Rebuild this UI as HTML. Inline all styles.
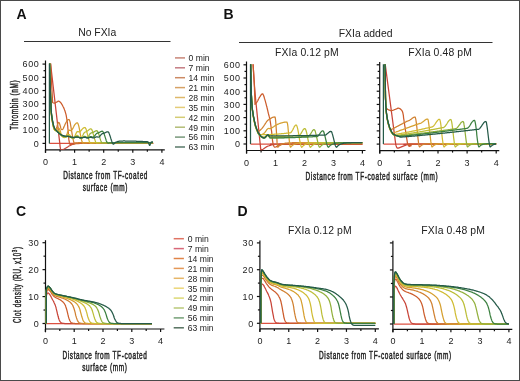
<!DOCTYPE html><html><head><meta charset="utf-8"><style>html,body{margin:0;padding:0;background:#fff;}svg{display:block;will-change:transform;}</style></head><body><svg width="520" height="381" viewBox="0 0 520 381" font-family='"Liberation Sans", sans-serif'>
<rect x="0" y="0" width="520" height="381" fill="#ffffff"/>
<rect x="0.5" y="0.5" width="519" height="380" fill="none" stroke="#4a4a4a" stroke-width="1"/>
<text x="16.4" y="18.6" font-size="14" text-anchor="start" font-weight="bold" fill="#111" >A</text>
<text x="223.6" y="18.9" font-size="14" text-anchor="start" font-weight="bold" fill="#111" >B</text>
<text x="15.9" y="216.4" font-size="14" text-anchor="start" font-weight="bold" fill="#111" >C</text>
<text x="237.4" y="216.4" font-size="14" text-anchor="start" font-weight="bold" fill="#111" >D</text>
<line x1="24" y1="41.5" x2="170.5" y2="41.5" stroke="#333" stroke-width="1.1"/>
<text x="97.2" y="35.6" font-size="10.4" text-anchor="middle" font-weight="normal" fill="#222" >No FXIa</text>
<line x1="239" y1="42.5" x2="492.5" y2="42.5" stroke="#333" stroke-width="1.1"/>
<text x="365.6" y="36.6" font-size="10.4" text-anchor="middle" font-weight="normal" fill="#222" >FXIa added</text>
<text x="306.9" y="56.2" font-size="10.4" text-anchor="middle" font-weight="normal" fill="#222" letter-spacing="0.12" >FXIa 0.12 pM</text>
<text x="440.1" y="56.2" font-size="10.4" text-anchor="middle" font-weight="normal" fill="#222" letter-spacing="0.12" >FXIa 0.48 pM</text>
<text x="319.9" y="233.9" font-size="10.4" text-anchor="middle" font-weight="normal" fill="#222" letter-spacing="0.12" >FXIa 0.12 pM</text>
<text x="453.1" y="233.9" font-size="10.4" text-anchor="middle" font-weight="normal" fill="#222" letter-spacing="0.12" >FXIa 0.48 pM</text>
<text transform="translate(105.6,179) scale(0.645,1)" font-size="10.0" text-anchor="middle" fill="#222" letter-spacing="0.95" stroke="#222" stroke-width="0.45">Distance from TF-coated</text>
<text transform="translate(105.3,191.1) scale(0.645,1)" font-size="10.0" text-anchor="middle" fill="#222" letter-spacing="0.95" stroke="#222" stroke-width="0.45">surface (mm)</text>
<text transform="translate(371.9,180.2) scale(0.645,1)" font-size="10.0" text-anchor="middle" fill="#222" letter-spacing="0.95" stroke="#222" stroke-width="0.45">Distance from TF-coated surface (mm)</text>
<text transform="translate(105,358.8) scale(0.645,1)" font-size="10.0" text-anchor="middle" fill="#222" letter-spacing="0.95" stroke="#222" stroke-width="0.45">Distance from TF-coated</text>
<text transform="translate(104.8,370.6) scale(0.645,1)" font-size="10.0" text-anchor="middle" fill="#222" letter-spacing="0.95" stroke="#222" stroke-width="0.45">surface (mm)</text>
<text transform="translate(385.4,358.6) scale(0.645,1)" font-size="10.0" text-anchor="middle" fill="#222" letter-spacing="0.95" stroke="#222" stroke-width="0.45">Distance from TF-coated surface (mm)</text>
<text transform="translate(18,104.9) rotate(-90) scale(0.645,1)" font-size="10.0" text-anchor="middle" fill="#222" letter-spacing="0.95" stroke="#222" stroke-width="0.45">Thrombin (nM)</text>
<text transform="translate(20.8,284.7) rotate(-90) scale(0.62,1)" font-size="10.0" text-anchor="middle" fill="#222" letter-spacing="0.95" stroke="#222" stroke-width="0.45">Clot density (RU, x10<tspan font-size="7.2" dy="-4">3</tspan><tspan dy="4">)</tspan></text>
<line x1="175" y1="57.9" x2="185" y2="57.9" stroke="#c88678" stroke-width="1.5"/>
<text x="188.6" y="61.2" font-size="8.6" text-anchor="start" font-weight="normal" fill="#222" >0 min</text>
<line x1="175" y1="67.8" x2="185" y2="67.8" stroke="#c47c82" stroke-width="1.5"/>
<text x="188.6" y="71.1" font-size="8.6" text-anchor="start" font-weight="normal" fill="#222" >7 min</text>
<line x1="175" y1="77.7" x2="185" y2="77.7" stroke="#cc8a64" stroke-width="1.5"/>
<text x="188.6" y="81" font-size="8.6" text-anchor="start" font-weight="normal" fill="#222" >14 min</text>
<line x1="175" y1="87.6" x2="185" y2="87.6" stroke="#d6a266" stroke-width="1.5"/>
<text x="188.6" y="90.9" font-size="8.6" text-anchor="start" font-weight="normal" fill="#222" >21 min</text>
<line x1="175" y1="97.5" x2="185" y2="97.5" stroke="#deb86a" stroke-width="1.5"/>
<text x="188.6" y="100.8" font-size="8.6" text-anchor="start" font-weight="normal" fill="#222" >28 min</text>
<line x1="175" y1="107.4" x2="185" y2="107.4" stroke="#e4cc78" stroke-width="1.5"/>
<text x="188.6" y="110.7" font-size="8.6" text-anchor="start" font-weight="normal" fill="#222" >35 min</text>
<line x1="175" y1="117.3" x2="185" y2="117.3" stroke="#d4cc74" stroke-width="1.5"/>
<text x="188.6" y="120.6" font-size="8.6" text-anchor="start" font-weight="normal" fill="#222" >42 min</text>
<line x1="175" y1="127.2" x2="185" y2="127.2" stroke="#b2bc76" stroke-width="1.5"/>
<text x="188.6" y="130.5" font-size="8.6" text-anchor="start" font-weight="normal" fill="#222" >49 min</text>
<line x1="175" y1="137.1" x2="185" y2="137.1" stroke="#78987a" stroke-width="1.5"/>
<text x="188.6" y="140.4" font-size="8.6" text-anchor="start" font-weight="normal" fill="#222" >56 min</text>
<line x1="175" y1="147" x2="185" y2="147" stroke="#587868" stroke-width="1.5"/>
<text x="188.6" y="150.3" font-size="8.6" text-anchor="start" font-weight="normal" fill="#222" >63 min</text>
<line x1="173.7" y1="238.7" x2="183.9" y2="238.7" stroke="#e07464" stroke-width="1.5"/>
<text x="187.8" y="242" font-size="8.6" text-anchor="start" font-weight="normal" fill="#222" >0 min</text>
<line x1="173.7" y1="248.6" x2="183.9" y2="248.6" stroke="#d86878" stroke-width="1.5"/>
<text x="187.8" y="251.9" font-size="8.6" text-anchor="start" font-weight="normal" fill="#222" >7 min</text>
<line x1="173.7" y1="258.5" x2="183.9" y2="258.5" stroke="#e08448" stroke-width="1.5"/>
<text x="187.8" y="261.8" font-size="8.6" text-anchor="start" font-weight="normal" fill="#222" >14 min</text>
<line x1="173.7" y1="268.4" x2="183.9" y2="268.4" stroke="#e49858" stroke-width="1.5"/>
<text x="187.8" y="271.7" font-size="8.6" text-anchor="start" font-weight="normal" fill="#222" >21 min</text>
<line x1="173.7" y1="278.3" x2="183.9" y2="278.3" stroke="#e6b668" stroke-width="1.5"/>
<text x="187.8" y="281.6" font-size="8.6" text-anchor="start" font-weight="normal" fill="#222" >28 min</text>
<line x1="173.7" y1="288.2" x2="183.9" y2="288.2" stroke="#ecd678" stroke-width="1.5"/>
<text x="187.8" y="291.5" font-size="8.6" text-anchor="start" font-weight="normal" fill="#222" >35 min</text>
<line x1="173.7" y1="298.1" x2="183.9" y2="298.1" stroke="#dcd874" stroke-width="1.5"/>
<text x="187.8" y="301.4" font-size="8.6" text-anchor="start" font-weight="normal" fill="#222" >42 min</text>
<line x1="173.7" y1="308" x2="183.9" y2="308" stroke="#b8c878" stroke-width="1.5"/>
<text x="187.8" y="311.3" font-size="8.6" text-anchor="start" font-weight="normal" fill="#222" >49 min</text>
<line x1="173.7" y1="317.9" x2="183.9" y2="317.9" stroke="#74a076" stroke-width="1.5"/>
<text x="187.8" y="321.2" font-size="8.6" text-anchor="start" font-weight="normal" fill="#222" >56 min</text>
<line x1="173.7" y1="327.8" x2="183.9" y2="327.8" stroke="#54705e" stroke-width="1.5"/>
<text x="187.8" y="331.1" font-size="8.6" text-anchor="start" font-weight="normal" fill="#222" >63 min</text>
<line x1="45.5" y1="60.5" x2="45.5" y2="152.8" stroke="#111" stroke-width="1.2"/>
<line x1="45.5" y1="149.8" x2="164.8" y2="149.8" stroke="#111" stroke-width="1.2"/>
<line x1="42.5" y1="143.4" x2="45.5" y2="143.4" stroke="#111" stroke-width="1.2"/>
<line x1="42.5" y1="130.18" x2="45.5" y2="130.18" stroke="#111" stroke-width="1.2"/>
<line x1="42.5" y1="116.96" x2="45.5" y2="116.96" stroke="#111" stroke-width="1.2"/>
<line x1="42.5" y1="103.74" x2="45.5" y2="103.74" stroke="#111" stroke-width="1.2"/>
<line x1="42.5" y1="90.52" x2="45.5" y2="90.52" stroke="#111" stroke-width="1.2"/>
<line x1="42.5" y1="77.3" x2="45.5" y2="77.3" stroke="#111" stroke-width="1.2"/>
<line x1="42.5" y1="64.08" x2="45.5" y2="64.08" stroke="#111" stroke-width="1.2"/>
<line x1="43.5" y1="136.79" x2="45.5" y2="136.79" stroke="#111" stroke-width="1.2"/>
<line x1="43.5" y1="123.57" x2="45.5" y2="123.57" stroke="#111" stroke-width="1.2"/>
<line x1="43.5" y1="110.35" x2="45.5" y2="110.35" stroke="#111" stroke-width="1.2"/>
<line x1="43.5" y1="97.13" x2="45.5" y2="97.13" stroke="#111" stroke-width="1.2"/>
<line x1="43.5" y1="83.91" x2="45.5" y2="83.91" stroke="#111" stroke-width="1.2"/>
<line x1="43.5" y1="70.69" x2="45.5" y2="70.69" stroke="#111" stroke-width="1.2"/>
<line x1="45.5" y1="149.8" x2="45.5" y2="152.8" stroke="#111" stroke-width="1.2"/>
<line x1="74.6" y1="149.8" x2="74.6" y2="152.8" stroke="#111" stroke-width="1.2"/>
<line x1="103.7" y1="149.8" x2="103.7" y2="152.8" stroke="#111" stroke-width="1.2"/>
<line x1="132.8" y1="149.8" x2="132.8" y2="152.8" stroke="#111" stroke-width="1.2"/>
<line x1="161.9" y1="149.8" x2="161.9" y2="152.8" stroke="#111" stroke-width="1.2"/>
<line x1="60.05" y1="149.8" x2="60.05" y2="151.8" stroke="#111" stroke-width="1.2"/>
<line x1="89.15" y1="149.8" x2="89.15" y2="151.8" stroke="#111" stroke-width="1.2"/>
<line x1="118.25" y1="149.8" x2="118.25" y2="151.8" stroke="#111" stroke-width="1.2"/>
<line x1="147.35" y1="149.8" x2="147.35" y2="151.8" stroke="#111" stroke-width="1.2"/>
<text transform="translate(39.4,146.7) scale(0.92,1)" font-size="9.8" text-anchor="end" letter-spacing="0.65" fill="#222">0</text>
<text transform="translate(39.4,133.48) scale(0.92,1)" font-size="9.8" text-anchor="end" letter-spacing="0.65" fill="#222">100</text>
<text transform="translate(39.4,120.26) scale(0.92,1)" font-size="9.8" text-anchor="end" letter-spacing="0.65" fill="#222">200</text>
<text transform="translate(39.4,107.04) scale(0.92,1)" font-size="9.8" text-anchor="end" letter-spacing="0.65" fill="#222">300</text>
<text transform="translate(39.4,93.82) scale(0.92,1)" font-size="9.8" text-anchor="end" letter-spacing="0.65" fill="#222">400</text>
<text transform="translate(39.4,80.6) scale(0.92,1)" font-size="9.8" text-anchor="end" letter-spacing="0.65" fill="#222">500</text>
<text transform="translate(39.4,67.38) scale(0.92,1)" font-size="9.8" text-anchor="end" letter-spacing="0.65" fill="#222">600</text>
<text transform="translate(45.5,164.7) scale(0.92,1)" font-size="9.8" text-anchor="middle" fill="#222">0</text>
<text transform="translate(74.6,164.7) scale(0.92,1)" font-size="9.8" text-anchor="middle" fill="#222">1</text>
<text transform="translate(103.7,164.7) scale(0.92,1)" font-size="9.8" text-anchor="middle" fill="#222">2</text>
<text transform="translate(132.8,164.7) scale(0.92,1)" font-size="9.8" text-anchor="middle" fill="#222">3</text>
<text transform="translate(161.9,164.7) scale(0.92,1)" font-size="9.8" text-anchor="middle" fill="#222">4</text>
<clipPath id="c1"><rect x="46" y="63.48" width="119.3" height="86.32"/></clipPath><g clip-path="url(#c1)">
<path d="M49.4,143.4L153.2,143.4" fill="none" stroke="#dc5040" stroke-width="1.25" stroke-linejoin="round"/>
<path d="M49.4,50.9L50.3,50.9L50.6,64.1L59.8,143.4L59.8,143.9L59.9,144.5L60,145.3L60,146.1L60.2,147L60.3,147.8L60.4,148.5L60.6,149L60.8,149.3L61.4,149.7L62.6,149.7L63.6,149.4L63.9,149.2L64.3,149L64.6,148.8L65,148.6L65.4,148.3L65.9,148L66.3,147.7L66.9,147.4L67.4,147.1L68,146.7L68.5,146.3L69.7,145.7L70.2,145.4L70.8,145.1L71.8,144.7L72.3,144.4L72.9,144.3L73.4,144.1L74,143.9L74.6,143.8L74.8,143.7L74.4,143.6L73.7,143.5L73.3,143.5L74.2,143.4L153.2,143.4" fill="none" stroke="#c84438" stroke-width="1.25" stroke-linejoin="round"/>
<path d="M49.4,50.9L50.3,50.9L50.6,64.1L52.6,102.4L53.1,102.7L53.7,103L54,103.1L54.2,103.1L54.5,103L54.8,103L55.1,102.8L55.7,102.6L56,102.4L56.6,102.2L56.8,102L57.1,101.8L57.4,101.7L57.7,101.5L57.9,101.3L58.2,101.2L58.8,101.2L59.1,101.3L59.7,101.7L60.1,102L60.8,102.7L61.1,103.2L61.5,103.7L61.9,104.4L62.4,105.2L63.3,107L63.8,107.9L64.2,108.9L64.6,110L65,111L65.3,112.1L65.6,113.1L65.9,114.2L66.2,115.4L66.8,119L67.2,121.6L67.4,123L67.5,124.4L67.7,125.9L67.9,128.8L68.1,130.2L68.5,135.4L68.7,137.8L68.8,138.9L68.9,139.9L69.1,140.8L69.3,142.2L69.5,143.2L69.7,143.6L69.8,144L70,144.2L70.2,144.5L70.7,144.7L71.3,144.5L72.1,144.3L73.1,144.1L74.6,143.9L76.2,143.7L77.2,143.6L78.2,143.6L80.4,143.4L81.6,143.3L82.9,143.3L84.2,143.2L85.6,143.2L87.1,143.1L88.6,143.1L90.3,143L114,143L119.6,143.1L125.9,143.1L132.4,143.2L138.8,143.3L144.7,143.3L149.6,143.4L153.2,143.4" fill="none" stroke="#cc5c2c" stroke-width="1.25" stroke-linejoin="round"/>
<path d="M49.4,52.4L49.7,67.9L50,80.8L50.3,89.9L50.6,98.2L50.9,105.4L51.1,111.4L51.4,115L51.7,117.6L52,119.7L52.3,121.6L52.9,124.8L53.2,126.2L53.5,127.4L53.8,128.3L54.1,129L54.3,129.6L54.6,129.9L54.9,130.1L55.2,130.1L55.5,129.9L55.8,129.5L56.1,129L56.4,128.3L57,126.5L57.3,125.5L57.5,124.5L57.8,123.6L58.1,123L58.4,122.5L58.7,122.4L59,122.6L59.3,123.1L59.6,123.8L59.9,124.7L60.5,126.7L60.7,127.7L61,128.5L61.3,129.1L61.6,129.5L61.9,129.7L62.2,129.7L62.5,129.5L62.8,129.2L63.1,128.8L63.7,127.6L63.9,127L64.2,126.3L64.5,125.7L65.1,124.3L66,122.5L66.9,121L67.4,120.3L68,119.7L68.6,119.5L68.9,119.5L69.2,119.8L69.5,120.3L69.8,121.1L70.1,122.2L70.4,123.5L70.6,125L70.9,126.6L71.8,132L72.1,133.9L72.4,135.7L72.7,137.3L73,138.8L73.3,140.2L73.6,141.3L73.8,142.2L74.1,142.8L74.4,143.1L75,143.1L75.3,143L75.6,143L75.9,142.9L76.8,142.9L77,142.8L78.2,142.8L78.5,142.7L81.7,142.7L82,142.6L153,142.6" fill="none" stroke="#d08030" stroke-width="1.25" stroke-linejoin="round"/>
<path d="M49.4,52L49.7,67.5L50,80.4L50.3,89.5L50.6,97.8L50.9,105L51.1,111L51.4,114.6L51.7,117.2L52,119.3L52.3,121.2L52.6,122.9L53.2,125.9L53.5,127.1L53.8,128L54.1,128.8L54.3,129.4L54.6,129.8L54.9,130.1L55.2,130.3L55.5,130.4L55.8,130.4L56.1,130.3L56.7,129.7L57.3,128.9L57.5,128.5L57.8,128.2L58.1,128L58.4,127.9L58.7,128L59,128.3L59.3,128.7L59.6,129.2L59.9,129.9L60.2,130.7L60.5,131.6L60.7,132.5L61,133.4L61.3,134.2L61.6,134.9L62.2,136.1L62.5,136.5L63.1,137.1L63.4,137.3L63.7,137.4L63.9,137.5L64.5,137.5L64.8,137.4L65.4,137L66,136.2L66.3,135.7L66.6,135.1L67.2,133.5L67.4,132.7L68,131.3L68.3,130.8L68.6,130.4L68.9,130.2L69.2,130.1L70.4,130.5L70.6,130.6L71.2,130.4L71.5,130.2L72.1,129.6L73,128.1L73.3,127.5L73.6,127L73.8,126.4L74.7,124.9L75.3,124.1L76.2,123.2L76.5,123L76.8,122.9L77,122.8L77.3,122.8L77.6,123L77.9,123.5L78.2,124.2L78.5,125.1L78.8,126.2L79.1,127.5L79.4,128.9L79.7,130.4L80,132L80.2,133.6L80.5,135.2L80.8,136.7L81.1,138.1L81.4,139.4L81.7,140.6L82,141.6L82.3,142.3L82.6,142.8L82.9,143.1L83.4,143.1L83.7,143L84,143L84.3,142.9L85.2,142.9L85.5,142.8L86.6,142.8L86.9,142.7L90.1,142.7L90.4,142.6L153,142.6" fill="none" stroke="#d6a030" stroke-width="1.25" stroke-linejoin="round"/>
<path d="M49.4,51.7L49.7,67.1L50,80L50.3,89.1L50.6,97.4L50.9,104.6L51.1,110.6L51.4,114.2L51.7,116.8L52,118.9L52.3,120.8L52.6,122.5L53.2,125.5L53.5,126.7L53.8,127.7L54.1,128.5L54.3,129.1L54.6,129.6L54.9,130L55.2,130.3L55.8,130.7L56.1,130.8L56.7,130.8L57,130.7L57.3,130.7L57.5,130.6L58.1,130.6L58.4,130.7L59,131.1L59.9,132.3L60.2,132.9L60.5,133.4L60.7,134L61.6,135.5L61.9,135.9L62.5,136.5L63.4,137.1L63.7,137.2L63.9,137.2L64.2,137.3L64.8,137.3L65.4,137.1L66.3,136.5L66.6,136.2L66.9,135.8L67.2,135.5L67.4,135.2L68,134.6L68.3,134.4L68.9,134.4L69.5,134.8L69.8,135.1L70.4,135.9L70.6,136.4L71.2,137.2L72.1,138.1L72.7,138.3L73.3,138.3L73.6,138.2L73.8,137.9L74.1,137.6L74.7,136.6L76.2,133.1L76.8,132.1L77,131.8L77.3,131.6L77.6,131.5L77.9,131.6L78.2,131.6L78.8,131.8L79.4,131.8L80,131.6L81.1,130.5L81.4,130.1L81.7,129.8L82,129.4L83.4,128L83.7,127.8L84.6,127.5L85.2,127.7L85.5,128.1L85.8,128.6L86.1,129.3L86.4,130.2L86.6,131.2L86.9,132.2L88.4,138.2L88.7,139.3L89,140.3L89.3,141.2L89.6,141.9L89.8,142.5L90.1,142.9L90.4,143.1L91,143.1L91.3,143L91.6,143L91.9,142.9L92.8,142.9L93,142.8L94.2,142.8L94.5,142.7L97.7,142.7L98,142.6L153,142.6" fill="none" stroke="#d0bc34" stroke-width="1.25" stroke-linejoin="round"/>
<path d="M49.4,51.3L49.7,66.7L50,79.6L50.3,88.7L50.6,97L50.9,104.2L51.1,110.2L51.4,113.8L51.7,116.4L52,118.5L52.3,120.4L52.6,122.1L52.9,123.7L53.2,125.1L53.5,126.3L53.8,127.3L54.1,128.1L54.3,128.8L54.6,129.3L55.2,130.1L55.8,130.7L56.4,131.1L57.3,131.4L57.5,131.5L57.8,131.7L58.1,131.8L58.4,132.1L59,132.5L59.6,133.1L59.9,133.5L60.2,133.8L60.5,134.2L60.7,134.6L61,135L61.9,135.9L62.8,136.5L63.7,136.8L63.9,136.9L64.2,137L65.4,137L66.6,136.6L66.9,136.4L67.2,136.3L67.4,136.1L67.7,136L68,135.8L68.9,135.8L69.2,135.9L70.4,136.7L70.6,137L70.9,137.3L71.8,137.9L72.7,138.2L73.3,138.2L74.1,137.9L74.4,137.7L76.5,135.6L77,135.4L77.3,135.4L77.6,135.5L78.2,135.9L78.5,136.2L78.8,136.6L79.1,136.9L79.4,137.3L79.7,137.6L80,137.8L80.2,138L80.5,138.1L81.1,137.9L81.7,137.3L82,136.9L82.3,136.3L82.6,135.8L83.2,134.6L83.4,134.1L83.7,133.5L84.3,132.7L84.6,132.4L85.2,132L86.4,131.6L86.9,131.3L87.8,130.7L88.1,130.4L88.4,130.2L88.7,129.9L89.6,129.3L89.8,129.1L90.4,128.9L91,128.9L91.3,129L91.6,129.4L91.9,129.9L92.2,130.5L92.5,131.3L92.8,132.2L93,133.2L93.3,134.2L93.9,136.4L94.2,137.6L94.8,139.6L95.4,141.4L95.7,142L96,142.5L96.3,142.9L96.5,143.1L97.1,143.1L97.4,143L97.7,143L98,142.9L98.9,142.9L99.2,142.8L100.3,142.8L100.6,142.7L103.8,142.7L104.1,142.6L153,142.6" fill="none" stroke="#bcbe38" stroke-width="1.25" stroke-linejoin="round"/>
<path d="M49.4,50.9L49.7,66.3L50,79.2L50.3,88.3L50.6,96.6L50.9,103.8L51.1,109.8L51.4,113.4L51.7,116L52,118.1L52.3,120L52.6,121.7L52.9,123.3L53.2,124.7L53.5,125.9L53.8,126.9L54.1,127.7L54.3,128.4L54.6,129L55.5,130.2L56.1,130.8L56.4,131L56.7,131.3L57.3,131.7L57.5,131.9L57.8,132.1L58.1,132.4L58.4,132.6L58.7,132.9L59,133.1L59.6,133.7L59.9,133.9L60.5,134.5L60.7,134.8L61,135L61.3,135.3L62.2,135.9L62.5,136L62.8,136.2L63.7,136.5L63.9,136.5L64.5,136.7L66.3,136.7L66.6,136.6L66.9,136.6L67.4,136.4L67.7,136.4L68,136.3L68.6,136.3L70.1,136.8L70.4,137L70.6,137.2L70.9,137.3L71.2,137.5L72.4,137.9L73.8,137.9L74.7,137.6L75,137.4L75.3,137.3L75.9,136.9L76.2,136.8L76.5,136.6L76.8,136.6L77,136.5L77.3,136.5L77.9,136.7L78.2,136.9L78.5,137L80,138L80.5,138.2L81.4,138.2L81.7,138.1L82,137.9L82.3,137.8L82.9,137.4L83.4,136.9L84,136.5L84.3,136.4L84.9,136.4L85.5,136.6L86.1,137L86.4,137.1L86.9,137.3L87.2,137.3L87.5,137.2L87.8,137L88.1,136.7L89,135.5L89.6,134.5L89.8,134.1L90.1,133.8L90.4,133.4L91,133L91.3,132.9L91.6,132.9L92.2,132.7L92.5,132.7L93,132.5L93.6,132.1L93.9,132L95.1,131.2L95.4,131.1L95.7,130.9L96,130.8L96.3,130.8L96.5,130.7L96.8,130.7L97.4,131.1L98,132.1L98.3,132.8L98.6,133.6L99.5,136.3L99.7,137.3L100,138.3L100.6,140.1L100.9,140.9L101.2,141.6L101.5,142.2L101.8,142.6L102.1,142.9L102.4,143.1L102.9,143.1L103.2,143L103.5,143L103.8,142.9L104.7,142.9L105,142.8L106.1,142.8L106.4,142.7L109.6,142.7L109.9,142.6L153,142.6" fill="none" stroke="#92b03c" stroke-width="1.25" stroke-linejoin="round"/>
<path d="M49.4,50.5L49.7,65.9L50,78.8L50.3,87.9L50.6,96.2L50.9,103.4L51.1,109.4L51.4,113L51.7,115.6L52,117.8L52.3,119.6L52.6,121.3L52.9,122.9L53.2,124.3L53.5,125.5L53.8,126.5L54.1,127.3L54.3,128L54.6,128.6L54.9,129.1L55.5,129.9L57,131.4L57.3,131.6L57.5,131.9L58.1,132.5L58.4,132.7L59,133.3L59.3,133.5L59.6,133.8L60.2,134.2L60.7,134.7L61.6,135.3L61.9,135.4L62.2,135.6L63.7,136.1L63.9,136.2L64.2,136.2L64.5,136.3L64.8,136.3L65.1,136.4L65.4,136.4L65.7,136.5L67.2,136.5L67.4,136.4L68,136.4L68.3,136.5L68.9,136.5L70.4,137L70.6,137.1L71.5,137.4L71.8,137.4L72.4,137.6L74.1,137.6L74.4,137.5L74.7,137.5L75.6,137.2L75.9,137.2L76.5,137L77.6,137L80,137.8L80.5,138L81.4,138L81.7,137.9L82,137.9L83.2,137.5L84,137.2L84.3,137.1L84.9,137.1L86.4,137.6L86.9,137.8L87.2,137.9L88.1,137.9L88.7,137.7L89.6,137.1L89.8,136.9L90.7,136.6L91,136.6L92.5,137.1L93,137.1L93.6,136.9L94.5,136L95.7,134.4L96.5,133.6L96.8,133.4L98.9,132.7L99.2,132.5L99.5,132.4L99.7,132.2L100,132L100.3,131.9L100.6,131.7L100.9,131.6L101.2,131.4L101.5,131.3L101.8,131.3L102.1,131.2L102.4,131.2L102.7,131.4L103.2,132.1L103.5,132.6L104.1,134L104.4,134.8L105,136.6L105.3,137.6L105.9,139.4L106.1,140.2L106.4,141L107,142.2L107.3,142.6L107.6,142.9L107.9,143.1L108.5,143.1L108.8,143L109.1,143L109.3,142.9L110.2,142.9L110.5,142.8L111.7,142.8L112,142.7L115.2,142.7L115.5,142.6L153,142.6" fill="none" stroke="#3c8040" stroke-width="1.25" stroke-linejoin="round"/>
<path d="M49.4,143.4L49.4,50.1L49.7,65.5L50,78.4L50.3,87.5L50.6,95.9L50.9,103L51.1,109L51.4,112.6L51.7,115.2L52,117.4L52.3,119.2L52.6,120.9L52.9,122.5L53.2,123.9L53.5,125.1L53.8,126.1L54.3,127.6L54.6,128.2L54.9,128.7L55.8,129.9L57.3,131.4L57.5,131.7L59,133.2L59.3,133.4L59.6,133.7L60.5,134.3L60.7,134.5L61,134.6L61.6,135L62.2,135.2L62.5,135.4L62.8,135.5L63.1,135.5L63.7,135.7L63.9,135.8L64.2,135.9L64.5,135.9L64.8,136L65.1,136L65.4,136.1L65.7,136.1L66,136.2L66.9,136.2L67.2,136.3L68,136.3L68.3,136.4L68.9,136.4L69.5,136.6L69.8,136.6L70.4,136.8L70.6,136.8L71.5,137.1L71.8,137.1L72.1,137.2L72.7,137.2L73,137.3L74.4,137.3L74.7,137.2L75.3,137.2L75.6,137.1L76.5,137.1L76.8,137L77,137L77.3,137.1L77.9,137.1L78.5,137.3L78.8,137.3L79.4,137.5L79.7,137.5L80,137.6L80.2,137.6L80.5,137.7L82,137.7L82.3,137.6L82.6,137.6L82.9,137.5L83.2,137.5L83.4,137.4L83.7,137.4L84,137.3L84.9,137.3L85.2,137.4L85.5,137.4L86.4,137.7L86.6,137.7L87.2,137.9L88.1,137.9L88.4,137.8L88.7,137.8L89.6,137.5L90.1,137.3L91.3,137.3L92.8,137.8L93,137.9L93.9,137.9L94.8,137.6L95.1,137.4L95.4,137.3L95.7,137.1L96.3,136.9L97.4,136.9L97.7,137L98.6,137L99.2,136.8L99.5,136.6L99.7,136.3L100,136L100.6,135.2L100.9,134.9L101.2,134.5L101.5,134.2L102.4,133.6L102.7,133.5L102.9,133.5L103.5,133.3L103.8,133.3L104.4,133.1L104.7,132.9L105,132.8L105.3,132.6L105.6,132.5L106.1,132.2L107.3,131.8L107.9,131.8L108.2,131.9L108.5,132.2L108.8,132.6L109.1,133.2L109.3,133.9L109.9,135.5L110.2,136.4L110.8,138.4L111.1,139.3L111.4,140.3L112,141.9L112.3,142.6L112.5,143.2L112.8,143.7L113.1,144L113.4,144.2L113.7,144.1L114,143.7L114.3,143.4L114.6,143.2L114.9,142.9L115.5,142.5L115.7,142.3L116,142.2L116.3,142L118.1,141.4L118.4,141.4L118.7,141.3L118.9,141.3L119.2,141.2L119.5,141.2L119.8,141.1L120.4,141.1L120.7,141L123,141L123.3,140.9L124.8,140.9L125.1,141L129.4,141L129.7,141.1L132.9,141.1L133.2,141.2L136.1,141.2L136.4,141.3L139.3,141.3L139.6,141.4L142.5,141.4L142.8,141.5L145.1,141.5L145.4,141.6L147.2,141.6L147.8,141.8L148,141.9L148.3,142.3L148.6,143L148.9,143.8L149.2,144.7L149.5,145.3L149.8,145.4L150.1,144.9L150.4,144.1L150.7,143.2L151,142.6L151.2,142.1L151.8,141.9L153,141.9" fill="none" stroke="#255a48" stroke-width="1.25" stroke-linejoin="round"/>
</g>
<line x1="246.5" y1="61.5" x2="246.5" y2="153.5" stroke="#111" stroke-width="1.2"/>
<line x1="246.5" y1="150.5" x2="365.5" y2="150.5" stroke="#111" stroke-width="1.2"/>
<line x1="243.5" y1="144" x2="246.5" y2="144" stroke="#111" stroke-width="1.2"/>
<line x1="243.5" y1="130.8" x2="246.5" y2="130.8" stroke="#111" stroke-width="1.2"/>
<line x1="243.5" y1="117.6" x2="246.5" y2="117.6" stroke="#111" stroke-width="1.2"/>
<line x1="243.5" y1="104.4" x2="246.5" y2="104.4" stroke="#111" stroke-width="1.2"/>
<line x1="243.5" y1="91.2" x2="246.5" y2="91.2" stroke="#111" stroke-width="1.2"/>
<line x1="243.5" y1="78" x2="246.5" y2="78" stroke="#111" stroke-width="1.2"/>
<line x1="243.5" y1="64.8" x2="246.5" y2="64.8" stroke="#111" stroke-width="1.2"/>
<line x1="244.5" y1="137.4" x2="246.5" y2="137.4" stroke="#111" stroke-width="1.2"/>
<line x1="244.5" y1="124.2" x2="246.5" y2="124.2" stroke="#111" stroke-width="1.2"/>
<line x1="244.5" y1="111" x2="246.5" y2="111" stroke="#111" stroke-width="1.2"/>
<line x1="244.5" y1="97.8" x2="246.5" y2="97.8" stroke="#111" stroke-width="1.2"/>
<line x1="244.5" y1="84.6" x2="246.5" y2="84.6" stroke="#111" stroke-width="1.2"/>
<line x1="244.5" y1="71.4" x2="246.5" y2="71.4" stroke="#111" stroke-width="1.2"/>
<line x1="246.6" y1="150.5" x2="246.6" y2="153.5" stroke="#111" stroke-width="1.2"/>
<line x1="275.55" y1="150.5" x2="275.55" y2="153.5" stroke="#111" stroke-width="1.2"/>
<line x1="304.5" y1="150.5" x2="304.5" y2="153.5" stroke="#111" stroke-width="1.2"/>
<line x1="333.45" y1="150.5" x2="333.45" y2="153.5" stroke="#111" stroke-width="1.2"/>
<line x1="362.4" y1="150.5" x2="362.4" y2="153.5" stroke="#111" stroke-width="1.2"/>
<line x1="261.07" y1="150.5" x2="261.07" y2="152.5" stroke="#111" stroke-width="1.2"/>
<line x1="290.02" y1="150.5" x2="290.02" y2="152.5" stroke="#111" stroke-width="1.2"/>
<line x1="318.98" y1="150.5" x2="318.98" y2="152.5" stroke="#111" stroke-width="1.2"/>
<line x1="347.93" y1="150.5" x2="347.93" y2="152.5" stroke="#111" stroke-width="1.2"/>
<text transform="translate(240.7,147.3) scale(0.92,1)" font-size="9.8" text-anchor="end" letter-spacing="0.65" fill="#222">0</text>
<text transform="translate(240.7,134.1) scale(0.92,1)" font-size="9.8" text-anchor="end" letter-spacing="0.65" fill="#222">100</text>
<text transform="translate(240.7,120.9) scale(0.92,1)" font-size="9.8" text-anchor="end" letter-spacing="0.65" fill="#222">200</text>
<text transform="translate(240.7,107.7) scale(0.92,1)" font-size="9.8" text-anchor="end" letter-spacing="0.65" fill="#222">300</text>
<text transform="translate(240.7,94.5) scale(0.92,1)" font-size="9.8" text-anchor="end" letter-spacing="0.65" fill="#222">400</text>
<text transform="translate(240.7,81.3) scale(0.92,1)" font-size="9.8" text-anchor="end" letter-spacing="0.65" fill="#222">500</text>
<text transform="translate(240.7,68.1) scale(0.92,1)" font-size="9.8" text-anchor="end" letter-spacing="0.65" fill="#222">600</text>
<text transform="translate(246.6,165.9) scale(0.92,1)" font-size="9.8" text-anchor="middle" fill="#222">0</text>
<text transform="translate(275.55,165.9) scale(0.92,1)" font-size="9.8" text-anchor="middle" fill="#222">1</text>
<text transform="translate(304.5,165.9) scale(0.92,1)" font-size="9.8" text-anchor="middle" fill="#222">2</text>
<text transform="translate(333.45,165.9) scale(0.92,1)" font-size="9.8" text-anchor="middle" fill="#222">3</text>
<text transform="translate(362.4,165.9) scale(0.92,1)" font-size="9.8" text-anchor="middle" fill="#222">4</text>
<clipPath id="c2"><rect x="247" y="64.2" width="119" height="86.3"/></clipPath><g clip-path="url(#c2)">
<path d="M250.5,144L362.4,144" fill="none" stroke="#dc5040" stroke-width="1.25" stroke-linejoin="round"/>
<path d="M250.5,51.6L252.8,51.6L253.1,64.8L254.3,83.7L255.6,99.1L260.8,149.9L261.6,149.9L262.2,149.7L262.5,149.5L262.9,149.3L263.4,149L264.4,148.2L266.2,147L266.9,146.6L267.5,146.3L268.2,146L268.9,145.8L269.7,145.5L270.4,145.3L271.2,145L271.9,144.8L272.7,144.7L272.8,144.5L272.3,144.4L271.4,144.3L270.7,144.2L270.5,144.1L271.5,144.1L274,144L362.4,144" fill="none" stroke="#c84438" stroke-width="1.25" stroke-linejoin="round"/>
<path d="M250.5,51.6L252.8,51.6L253.1,64.8L254.3,83.7L255,104.4L255.2,104.2L255.4,103.9L255.7,103.6L256.3,102.8L256.7,102.4L257,101.9L257.3,101.5L257.9,100.5L258.2,99.9L258.4,99.3L258.7,98.8L259.3,97.6L259.6,97.1L260,96.6L260.3,96.1L261.1,94.9L261.5,94.5L261.8,94.1L262.2,93.9L262.5,93.8L262.8,94L263.1,94.3L263.3,94.8L263.6,95.4L264,96.8L264.3,97.6L264.5,98.5L264.8,99.4L265.4,101.4L265.7,102.6L266,103.7L266.3,104.9L266.6,106L266.9,107L267.3,109L267.6,109.9L267.8,110.9L268,111.8L268.2,112.6L268.4,113.5L268.8,115.1L269.2,116.3L269.3,116.9L269.5,117.5L269.7,118.2L269.9,119L270,120L270.2,121.1L270.4,122.3L271,126.5L271.2,128L271.3,129.4L271.7,132.2L271.9,135L272.1,136.4L272.2,137.8L272.4,139.1L272.5,140.3L272.7,141.4L272.8,142.3L273,143.2L273.2,143.9L273.3,144.6L273.5,145.3L273.9,146.3L274.3,146.9L274.5,147.1L274.7,147.2L275.1,147.2L275.7,147L276.1,146.9L276.6,146.7L277.2,146.5L277.8,146.2L278.5,145.8L280.6,144.9L281.3,144.7L281.6,144.5L281.1,144.4L280.4,144.3L279.9,144.2L279.8,144.1L280.8,144.1L283.1,144L362.4,144" fill="none" stroke="#cc5c2c" stroke-width="1.25" stroke-linejoin="round"/>
<path d="M250.5,52.6L250.8,70.8L251.1,85.5L251.4,96L251.7,101.9L252,105.8L252.2,108.8L252.5,111.2L252.8,113.4L253.1,115.4L253.4,117.2L253.7,118.9L254,120.4L254.3,121.8L254.6,123L254.9,124.3L255.1,125.4L255.7,127.4L256,128.3L256.3,129L256.6,129.5L257.2,130.3L257.7,130.8L258,131L258.6,131L259.2,130.8L259.8,130.4L260.1,130.3L261.8,128.6L262.1,128.2L262.4,127.9L263,127.1L263.2,126.7L264.1,125.5L264.4,125L264.7,124.6L265,124.1L265.3,123.7L265.9,122.7L266.1,122.3L267,121.1L267.9,120.2L268.5,119.8L268.7,119.6L269.6,119L269.9,118.9L270.5,118.5L270.8,118.4L271.4,118L271.6,117.9L271.9,117.7L272.5,117.5L272.8,117.3L273.1,117.2L273.4,117.2L274,117L274.5,117L274.8,116.9L275.1,117.1L275.4,118.6L275.7,121.4L276,125.2L276.3,129.7L276.6,134.5L276.9,139L277.1,142.9L277.4,145.6L277.7,147.1L278,147.1L278.3,146.8L278.6,146.4L278.9,146.1L279.2,145.9L279.7,145.4L280.9,144.6L281.2,144.5L281.5,144.3L282.1,144.1L282.4,143.9L282.6,143.8L282.9,143.8L283.8,143.5L284.1,143.5L284.7,143.3L285,143.3L285.2,143.2L285.5,143.2L285.8,143.1L286.4,143.1L286.7,143L287.6,143L287.9,142.9L289.3,142.9L289.6,142.8L292.2,142.8L292.5,142.7L362.3,142.7" fill="none" stroke="#d08030" stroke-width="1.25" stroke-linejoin="round"/>
<path d="M250.5,52.3L250.8,70.6L251.1,85.2L251.4,95.8L251.7,101.7L252,105.5L252.2,108.5L252.5,111L252.8,113.2L253.1,115.2L253.4,117L253.7,118.6L254,120.1L254.3,121.5L254.6,122.8L254.9,124L255.1,125.1L255.4,126.2L256.3,128.9L257.2,131.3L257.5,132L257.7,132.6L258,133.1L258.6,133.7L258.9,133.9L259.2,134L259.5,134.2L260.4,134.5L260.6,134.6L261.2,134.6L261.5,134.5L261.8,134.5L262.4,134.3L262.7,134.1L263,134L263.2,133.9L263.8,133.5L264.7,132.6L265.9,131L266.1,130.6L266.7,129.8L267.6,128.9L267.9,128.7L268.5,128.5L268.7,128.4L269,128.4L269.3,128.5L270.5,128.5L271.4,128.2L271.6,128.1L274,126.5L274.2,126.3L275.1,125.7L275.4,125.6L276.3,125L276.6,124.9L276.9,124.7L277.1,124.6L277.4,124.4L277.7,124.3L278,124.1L278.9,123.8L279.2,123.6L279.5,123.5L280,123.3L281.5,122.8L281.8,122.8L282.4,122.6L282.6,122.5L282.9,122.5L283.2,122.4L283.5,122.4L283.8,122.3L284.1,122.3L284.4,122.2L285.2,122.2L285.5,122.1L286.7,122.1L287,122.2L287.3,122.9L287.6,124.3L287.9,126.3L288.1,128.8L288.4,131.7L289,137.7L289.3,140.6L289.6,143.1L289.9,145.1L290.2,146.5L290.5,147.2L290.7,147.1L291,146.8L291.3,146.4L291.6,146.1L291.9,145.9L292.2,145.6L293.4,144.8L293.6,144.6L293.9,144.5L294.2,144.3L294.8,144.1L295.1,143.9L295.4,143.8L295.7,143.8L296.2,143.6L296.5,143.5L296.8,143.5L297.4,143.3L297.7,143.3L298,143.2L298.3,143.2L298.6,143.1L299.1,143.1L299.4,143L300.3,143L300.6,142.9L302,142.9L302.3,142.8L304.9,142.8L305.2,142.7L362.3,142.7" fill="none" stroke="#d6a030" stroke-width="1.25" stroke-linejoin="round"/>
<path d="M250.5,52.1L250.8,70.4L251.1,85L251.4,95.6L251.7,101.4L252,105.3L252.2,108.3L252.5,110.8L252.8,113L253.1,115L253.4,116.8L253.7,118.4L254,119.9L254.3,121.3L254.6,122.6L254.9,123.8L255.1,124.9L255.7,126.9L256.3,128.7L257.2,131.1L257.5,131.8L257.7,132.5L258,133.1L258.6,134.1L258.9,134.5L259.2,134.7L265.3,134.7L265.6,134.6L268.5,134.6L268.7,134.5L270.8,134.5L271.1,134.4L272.8,134.4L273.1,134.3L274.2,134.3L274.5,134.2L276,134.2L276.3,134.1L277.4,134.1L277.7,134L278.6,134L278.9,133.9L279.7,133.9L280,133.8L281.2,133.8L281.5,133.7L282.1,133.7L282.4,133.6L283.2,133.6L283.5,133.5L284.1,133.5L284.4,133.4L285.2,133.4L285.5,133.3L286.1,133.3L286.4,133.2L287,133.2L287.3,133.1L287.9,133.1L288.1,133L288.7,133L289,132.9L289.6,132.9L289.9,132.8L290.5,132.8L290.7,132.7L291.6,131.8L292.8,129.8L293.4,128.6L293.6,128L293.9,127.5L294.2,126.9L294.5,126.4L295.1,125.6L295.4,125.3L295.7,125.1L296,125L296.2,125L296.5,125.3L296.8,125.8L297.1,126.6L297.4,127.7L297.7,128.9L298,130.3L298.6,133.5L298.9,135.3L299.1,137L299.7,140.4L300,142L300.3,143.4L300.6,144.6L300.9,145.7L301.2,146.5L301.7,147.3L302,147.1L302.3,146.8L302.6,146.4L302.9,146.1L303.2,145.9L303.5,145.6L304.4,145L304.6,144.8L304.9,144.6L305.2,144.5L305.5,144.3L306.1,144.1L306.4,143.9L306.7,143.8L307,143.8L307.5,143.6L307.8,143.5L308.1,143.5L308.7,143.3L309,143.3L309.3,143.2L309.6,143.2L309.9,143.1L310.4,143.1L310.7,143L311.6,143L311.9,142.9L313.3,142.9L313.6,142.8L316.2,142.8L316.5,142.7L362.3,142.7" fill="none" stroke="#d0bc34" stroke-width="1.25" stroke-linejoin="round"/>
<path d="M250.5,51.8L250.8,70.1L251.1,84.7L251.4,95.3L251.7,101.2L252,105.1L252.2,108L252.5,110.5L252.8,112.7L253.1,114.7L253.4,116.5L253.7,118.2L254,119.7L254.6,122.3L254.9,123.5L255.1,124.7L255.7,126.7L256,127.6L256.3,128.4L256.6,129.3L256.9,130.1L257.2,130.8L257.5,131.6L257.7,132.2L258.3,133.4L258.6,133.9L259.8,135.5L260.1,135.8L260.6,136.5L260.9,136.8L261.2,136.9L265.9,136.9L266.1,136.8L267,135.9L267.6,135.5L267.9,135.5L268.2,135.6L268.5,135.8L268.7,136.2L269,136.6L269.3,136.9L269.9,136.9L270.2,136.8L273.7,136.8L274,136.7L276.9,136.7L277.1,136.6L279.2,136.6L279.5,136.5L281.5,136.5L281.8,136.4L283.5,136.4L283.8,136.3L285.2,136.3L285.5,136.2L287,136.2L287.3,136.1L288.7,136.1L289,136L290.2,136L290.5,135.9L291.6,135.9L291.9,135.8L292.8,135.8L293.1,135.7L294.2,135.7L294.5,135.6L295.4,135.6L295.7,135.5L296.8,135.5L297.1,135.4L298,135.4L298.3,135.3L299.1,135.3L299.4,135.2L299.7,135L300.3,134.4L300.9,133.6L301.2,133.1L301.5,132.7L301.7,132.2L302.9,130.2L303.5,129.4L304.1,128.8L304.6,128.6L304.9,128.6L305.2,128.8L305.5,129.3L305.8,129.9L306.1,130.8L306.4,131.8L306.7,133L307,134.3L307.3,135.7L307.5,137.2L307.8,138.7L308.4,141.5L308.7,142.8L309,144L309.3,145.1L309.6,145.9L309.9,146.6L310.1,147L310.4,147.3L310.7,147.1L311,146.8L311.3,146.4L311.6,146.1L311.9,145.9L312.2,145.6L312.8,145.2L313,145L313.6,144.6L313.9,144.5L314.2,144.3L314.8,144.1L315.1,143.9L315.4,143.8L315.6,143.8L316.5,143.5L316.8,143.5L317.4,143.3L317.7,143.3L318,143.2L318.3,143.2L318.5,143.1L319.1,143.1L319.4,143L320.3,143L320.6,142.9L322,142.9L322.3,142.8L324.9,142.8L325.2,142.7L362.3,142.7" fill="none" stroke="#bcbe38" stroke-width="1.25" stroke-linejoin="round"/>
<path d="M250.5,51.6L250.8,69.9L251.1,84.5L251.4,95.1L251.7,101L252,104.8L252.2,107.8L252.5,110.3L252.8,112.5L253.1,114.5L253.4,116.3L253.7,117.9L254,119.4L254.3,120.8L254.6,122.1L254.9,123.3L255.1,124.4L255.4,125.5L256.3,128.2L257.2,130.6L257.5,131.3L257.7,132L258.3,133.2L258.6,133.6L258.9,134.1L259.2,134.4L260.1,135.6L260.4,135.9L260.6,136.3L260.9,136.6L261.2,136.8L261.5,137.1L262.7,137.9L265,137.9L265.6,137.3L266.4,136.2L266.7,135.9L267.6,135.3L267.9,135.3L268.2,135.4L268.5,135.6L269.6,137.4L269.9,137.9L273.7,137.9L274,137.8L278.3,137.8L278.6,137.7L281.8,137.7L282.1,137.6L285,137.6L285.2,137.5L287.6,137.5L287.9,137.4L289.9,137.4L290.2,137.3L291.9,137.3L292.2,137.2L294.2,137.2L294.5,137.1L296,137.1L296.2,137L297.7,137L298,136.9L299.4,136.9L299.7,136.8L301.2,136.8L301.5,136.7L302.6,136.7L302.9,136.6L304.4,136.6L304.6,136.5L305.8,136.5L306.1,136.4L307.3,136.4L307.5,136.3L308.4,136.3L308.7,136.2L309,136L309.6,135.4L309.9,135L310.1,134.6L310.4,134.2L311.9,131.7L312.2,131.3L312.5,130.8L312.8,130.5L313,130.2L313.3,129.9L313.6,129.7L313.9,129.6L314.2,129.6L314.5,129.9L314.8,130.3L315.1,130.9L315.4,131.7L315.6,132.7L315.9,133.8L316.5,136.4L316.8,137.8L317.1,139.1L317.4,140.5L318,143.1L318.3,144.2L318.5,145.2L318.8,146L319.1,146.6L319.4,147.1L319.7,147.3L320,147.1L320.3,146.8L320.6,146.4L321.4,145.6L322.9,144.6L323.2,144.5L323.5,144.3L324,144.1L324.3,143.9L324.6,143.8L324.9,143.8L325.8,143.5L326.1,143.5L326.6,143.3L326.9,143.3L327.2,143.2L327.5,143.2L327.8,143.1L328.4,143.1L328.7,143L329.5,143L329.8,142.9L331.3,142.9L331.6,142.8L334.2,142.8L334.5,142.7L362.3,142.7" fill="none" stroke="#92b03c" stroke-width="1.25" stroke-linejoin="round"/>
<path d="M250.5,51.4L250.8,69.6L251.1,84.3L251.4,94.9L251.7,100.7L252,104.6L252.2,107.6L252.5,110.1L253.1,114.3L253.7,117.7L254,119.2L254.3,120.6L254.6,121.9L254.9,123.1L255.1,124.2L255.7,126.2L256.3,128L257.2,130.4L257.5,131.1L257.7,131.8L258,132.4L258.6,133.4L259.8,135L260.1,135.3L260.6,136L261.2,136.6L261.5,136.8L261.8,137.1L262.1,137.3L262.4,137.4L263,137.8L263.2,137.9L263.8,138.1L264.1,138L264.4,138L264.7,137.9L265,137.7L265.6,137.1L266.4,136L267,135.4L267.3,135.2L267.6,135.1L268.2,135.1L268.5,135.3L268.7,135.7L269,136.1L269.3,136.6L269.6,137.2L269.9,137.7L270.2,137.9L278.6,137.9L278.9,137.8L284.1,137.8L284.4,137.7L288.4,137.7L288.7,137.6L292.2,137.6L292.5,137.5L295.4,137.5L295.7,137.4L298.6,137.4L298.9,137.3L301.2,137.3L301.5,137.2L303.8,137.2L304.1,137.1L306.1,137.1L306.4,137L308.4,137L308.7,136.9L310.4,136.9L310.7,136.8L312.5,136.8L312.8,136.7L314.5,136.7L314.8,136.6L316.2,136.6L316.5,136.5L317.1,136.5L317.7,136.3L318,136.1L318.3,135.8L318.5,135.5L319.7,133.9L320,133.4L320.9,132.2L321.4,131.5L321.7,131.3L322,131L322.6,130.8L322.9,130.8L323.2,131L323.5,131.4L323.8,132L324,132.8L324.3,133.7L324.6,134.7L325.2,137.1L326.1,141L326.4,142.2L326.6,143.4L326.9,144.4L327.2,145.3L327.5,146.1L327.8,146.7L328.1,147.1L328.4,147.3L328.7,147.1L329,146.8L329.3,146.4L329.5,146.1L329.8,145.9L330.1,145.6L331.6,144.6L331.9,144.5L332.1,144.3L332.7,144.1L333,143.9L333.3,143.8L333.6,143.8L334.5,143.5L334.8,143.5L335,143.4L335.3,143.3L335.6,143.3L335.9,143.2L336.2,143.2L336.5,143.1L337.1,143.1L337.4,143L338.2,143L338.5,142.9L340,142.9L340.3,142.8L342.9,142.8L343.1,142.7L362.3,142.7" fill="none" stroke="#3c8040" stroke-width="1.25" stroke-linejoin="round"/>
<path d="M250.5,144L250.5,51.1L250.8,69.4L251.1,84L251.4,94.6L251.7,100.5L252,104.4L252.2,107.3L252.5,109.8L252.8,112L253.1,114L253.4,115.8L253.7,117.4L254,118.9L254.3,120.3L254.6,121.6L254.9,122.8L255.1,123.9L255.4,125L255.7,125.9L256,126.9L256.3,127.7L256.6,128.6L256.9,129.4L257.5,130.8L257.7,131.5L258.3,132.7L258.6,133.2L259.5,134.4L259.8,134.7L260.4,135.5L260.6,135.8L261.2,136.4L262.7,137.4L263,137.5L263.2,137.7L263.5,137.8L264.4,137.8L265,137.4L265.9,136.5L266.1,136.1L266.4,135.8L266.7,135.4L267.6,134.8L267.9,134.8L268.2,134.9L268.5,135.1L268.7,135.5L269,135.9L284.4,135.9L284.7,135.8L292.8,135.8L293.1,135.7L299.1,135.7L299.4,135.6L304.4,135.6L304.6,135.5L309,135.5L309.3,135.4L313,135.4L313.3,135.3L316.8,135.3L317.1,135.2L320.6,135.2L320.9,135.1L323.8,135.1L324,135L325.5,135L325.8,134.9L326.4,134.5L326.6,134.3L326.9,134.1L327.2,133.8L327.5,133.6L328.1,133L328.4,132.8L329,132.2L329.3,132L329.5,131.8L329.8,131.6L330.7,131.3L331.3,131.5L331.6,131.9L331.9,132.5L332.1,133.2L332.4,134.1L332.7,135.1L333,136.3L333.3,137.4L333.6,138.7L333.9,139.9L334.2,141.2L334.5,142.4L334.8,143.5L335,144.5L335.3,145.4L335.6,146.1L335.9,146.7L336.2,147.1L336.5,147.3L336.8,147.1L337.1,146.8L337.6,146.1L337.9,145.9L338.2,145.6L339.7,144.6L340,144.5L340.5,144.2L340.8,144.1L341.1,143.9L341.4,143.8L341.7,143.8L342.6,143.5L342.9,143.5L343.4,143.3L343.7,143.3L344,143.2L344.3,143.2L344.6,143.1L345.2,143.1L345.5,143L346.3,143L346.6,142.9L348.1,142.9L348.4,142.8L351,142.8L351.3,142.7L362.3,142.7" fill="none" stroke="#255a48" stroke-width="1.25" stroke-linejoin="round"/>
</g>
<line x1="379.7" y1="62" x2="379.7" y2="153.5" stroke="#111" stroke-width="1.2"/>
<line x1="379.7" y1="150.6" x2="499.3" y2="150.6" stroke="#111" stroke-width="1.2"/>
<line x1="376.7" y1="144.1" x2="379.7" y2="144.1" stroke="#111" stroke-width="1.2"/>
<line x1="376.7" y1="130.88" x2="379.7" y2="130.88" stroke="#111" stroke-width="1.2"/>
<line x1="376.7" y1="117.66" x2="379.7" y2="117.66" stroke="#111" stroke-width="1.2"/>
<line x1="376.7" y1="104.44" x2="379.7" y2="104.44" stroke="#111" stroke-width="1.2"/>
<line x1="376.7" y1="91.22" x2="379.7" y2="91.22" stroke="#111" stroke-width="1.2"/>
<line x1="376.7" y1="78" x2="379.7" y2="78" stroke="#111" stroke-width="1.2"/>
<line x1="376.7" y1="64.78" x2="379.7" y2="64.78" stroke="#111" stroke-width="1.2"/>
<line x1="377.7" y1="137.49" x2="379.7" y2="137.49" stroke="#111" stroke-width="1.2"/>
<line x1="377.7" y1="124.27" x2="379.7" y2="124.27" stroke="#111" stroke-width="1.2"/>
<line x1="377.7" y1="111.05" x2="379.7" y2="111.05" stroke="#111" stroke-width="1.2"/>
<line x1="377.7" y1="97.83" x2="379.7" y2="97.83" stroke="#111" stroke-width="1.2"/>
<line x1="377.7" y1="84.61" x2="379.7" y2="84.61" stroke="#111" stroke-width="1.2"/>
<line x1="377.7" y1="71.39" x2="379.7" y2="71.39" stroke="#111" stroke-width="1.2"/>
<line x1="379.8" y1="150.6" x2="379.8" y2="153.6" stroke="#111" stroke-width="1.2"/>
<line x1="408.9" y1="150.6" x2="408.9" y2="153.6" stroke="#111" stroke-width="1.2"/>
<line x1="438" y1="150.6" x2="438" y2="153.6" stroke="#111" stroke-width="1.2"/>
<line x1="467.1" y1="150.6" x2="467.1" y2="153.6" stroke="#111" stroke-width="1.2"/>
<line x1="496.2" y1="150.6" x2="496.2" y2="153.6" stroke="#111" stroke-width="1.2"/>
<line x1="394.35" y1="150.6" x2="394.35" y2="152.6" stroke="#111" stroke-width="1.2"/>
<line x1="423.45" y1="150.6" x2="423.45" y2="152.6" stroke="#111" stroke-width="1.2"/>
<line x1="452.55" y1="150.6" x2="452.55" y2="152.6" stroke="#111" stroke-width="1.2"/>
<line x1="481.65" y1="150.6" x2="481.65" y2="152.6" stroke="#111" stroke-width="1.2"/>
<text transform="translate(379.8,165.9) scale(0.92,1)" font-size="9.8" text-anchor="middle" fill="#222">0</text>
<text transform="translate(408.9,165.9) scale(0.92,1)" font-size="9.8" text-anchor="middle" fill="#222">1</text>
<text transform="translate(438,165.9) scale(0.92,1)" font-size="9.8" text-anchor="middle" fill="#222">2</text>
<text transform="translate(467.1,165.9) scale(0.92,1)" font-size="9.8" text-anchor="middle" fill="#222">3</text>
<text transform="translate(496.2,165.9) scale(0.92,1)" font-size="9.8" text-anchor="middle" fill="#222">4</text>
<clipPath id="c3"><rect x="380.2" y="64.18" width="119.6" height="86.42"/></clipPath><g clip-path="url(#c3)">
<path d="M383.4,144.1L496.2,144.1" fill="none" stroke="#dc5040" stroke-width="1.25" stroke-linejoin="round"/>
<path d="M383.4,51.6L385,51.6L385.3,64.8L395.8,144.8L395.9,145L396,145.4L396.2,145.9L396.4,146.5L396.5,147L396.8,147.4L397,147.8L397.3,148.1L397.5,148.2L398.1,148.2L398.4,148.1L398.8,147.9L399.2,147.8L400.2,147.4L400.8,147.2L401.4,146.9L402.1,146.6L404.5,145.7L405.2,145.4L406,145.2L406.2,145L405.6,144.8L404.7,144.6L404,144.5L403.9,144.4L404.8,144.3L407.3,144.2L411.8,144.1L419.2,144L454.4,144L467.3,144.1L496.2,144.1" fill="none" stroke="#c84438" stroke-width="1.25" stroke-linejoin="round"/>
<path d="M383.4,51.6L384.7,51.6L385.1,64.8L385.3,91.2L385.8,107.7L386,108L386.3,108.3L386.5,108.4L386.9,108.8L387.1,108.9L387.3,109.1L387.8,109.4L388,109.5L388.3,109.6L388.5,109.8L389.7,110.2L390,110.4L390.7,110.6L391,110.6L391.4,110.7L391.7,110.7L392.5,110.5L392.9,110.3L393.2,110.2L393.6,110L394.1,109.8L394.5,109.6L394.9,109.5L395.9,109.1L396.4,108.8L397,108.6L398,108.2L398.5,108.2L399,108.3L400,108.7L400.4,109L400.9,109.5L401.4,109.9L402.2,111.1L402.5,111.8L402.8,112.7L403,113.6L403.2,114.6L403.4,115.7L403.5,116.9L403.6,118L403.8,119.2L404,120.3L404.1,121.4L404.3,122.5L404.5,123.5L404.6,124.6L404.8,125.8L405,126.9L405.2,128.2L405.4,129.6L405.6,131.1L405.9,132.8L406.2,134.7L406.4,136.5L406.7,138.4L407,140.1L407.2,141.6L407.4,142.8L407.6,143.7L407.8,144.4L408,144.9L408.2,145.3L408.3,145.6L408.5,145.7L408.9,146.1L409.4,146.3L409.7,146.3L409.9,146.2L410.5,146L410.9,145.8L411.2,145.7L411.1,145.5L410.2,145.3L409,145.1L408,144.9L407.6,144.6L408.3,144.4L410.5,144.2L414.7,144.1L421.7,144L468.2,144L479.7,144.1L496.2,144.1" fill="none" stroke="#cc5c2c" stroke-width="1.25" stroke-linejoin="round"/>
<path d="M383.4,52.2L383.7,53.6L384.3,56.6L384.6,58L384.9,61.3L385.2,72.9L385.5,98.4L385.8,106.5L386.1,109.6L386.3,112.5L386.6,115.1L386.9,117.3L387.2,119.1L387.5,120.7L387.8,122.1L388.4,124.5L389,126.5L389.3,127.3L389.5,128.2L389.8,129L390.1,129.7L390.4,130L390.7,129.9L391,129.7L391.3,129.6L391.9,129.2L392.2,129.1L392.7,128.8L393,128.6L393.3,128.5L393.6,128.3L393.9,128.2L394.2,128L394.5,127.9L394.8,127.7L395.1,127.6L395.7,127.2L396,127.1L396.2,126.9L396.5,126.8L396.8,126.6L397.1,126.5L397.4,126.3L397.7,126.2L398,126L398.3,125.9L398.6,125.7L398.9,125.6L399.2,125.4L399.4,125.2L399.7,125.1L400,124.9L400.3,124.8L400.6,124.6L400.9,124.5L401.2,124.3L401.5,124.2L401.8,124L402.1,123.9L402.4,123.7L402.6,123.6L403.2,123.2L403.5,123.1L403.8,122.9L404.1,122.8L404.4,122.6L404.7,122.5L405,122.3L405.3,122.2L406.1,121.7L406.4,121.6L407,121.2L407.6,121L407.9,121L408.8,120.7L409.6,120.2L411.4,119L411.7,118.7L412,118.5L412.2,118.3L413.1,117.7L413.4,117.6L413.7,117.4L414.3,117.2L414.6,117.2L414.9,117.1L415.2,117.2L415.4,117.8L415.7,118.9L416,120.5L416.3,122.6L416.6,125L416.9,127.7L417.8,136.4L418.1,139.1L418.4,141.5L418.6,143.6L418.9,145.2L419.2,146.4L419.5,146.9L419.8,146.8L420.7,145.9L421,145.7L421.3,145.4L421.6,145.2L422.1,144.9L422.4,144.8L422.7,144.6L423.6,144.3L423.9,144.3L424.5,144.1L424.8,144.1L425.1,144L425.3,144L425.6,143.9L426.2,143.9L426.5,143.8L427.4,143.8L427.7,143.7L429.4,143.7L429.7,143.6L496.1,143.6" fill="none" stroke="#d08030" stroke-width="1.25" stroke-linejoin="round"/>
<path d="M383.4,52L383.7,53.4L384.3,56.4L384.6,57.8L384.9,61.1L385.2,72.7L385.5,98.2L385.8,106.3L386.1,109.4L386.3,112.3L386.6,114.9L386.9,117.1L387.2,118.9L387.5,120.5L387.8,121.9L388.4,124.3L389,126.3L389.3,127.1L389.5,128L389.8,128.8L391,131.6L391.3,132.1L391.6,132.7L391.9,133.2L392.2,133.4L392.5,133.3L392.7,133.1L396,132L396.2,131.9L398,131.3L398.3,131.1L399.2,130.8L399.4,130.7L402.4,129.7L402.9,129.5L403.5,129.3L403.8,129.1L405.6,128.5L405.8,128.4L408.8,127.4L409.3,127.1L412,126.2L412.2,126.1L414.9,125.2L415.4,124.9L418.4,123.9L419.2,123.6L420.1,123.3L420.4,123.3L421.3,123L421.6,122.8L421.8,122.6L423,121.8L423.3,121.5L423.6,121.3L423.9,121L424.2,120.8L424.5,120.5L425.1,120.1L425.3,119.9L426.2,119.3L427.1,119L427.7,119L428,119.6L428.3,120.6L428.5,122.2L428.8,124.1L429.1,126.4L429.4,128.9L429.7,131.6L430,134.4L430.3,137.1L430.6,139.6L430.9,141.9L431.2,143.8L431.5,145.4L431.7,146.4L432,146.9L432.3,146.8L433.2,145.9L433.5,145.7L433.8,145.4L434.1,145.2L434.4,145.1L434.9,144.8L435.2,144.6L436.1,144.3L436.4,144.3L437,144.1L437.3,144.1L437.6,144L437.9,144L438.1,143.9L438.7,143.9L439,143.8L439.9,143.8L440.2,143.7L441.9,143.7L442.2,143.6L496.1,143.6" fill="none" stroke="#d6a030" stroke-width="1.25" stroke-linejoin="round"/>
<path d="M383.4,51.8L383.7,53.2L384.3,56.2L384.6,57.6L384.9,60.9L385.2,72.5L385.5,98L385.8,106.1L386.1,109.2L386.3,112.1L386.6,114.7L386.9,116.9L387.2,118.7L387.5,120.3L387.8,121.7L388.4,124.1L389,126.1L389.3,126.9L389.5,127.8L389.8,128.6L391,131.4L391.3,131.9L391.6,132.5L391.9,133L392.5,133.8L392.7,134.2L393,134.5L393.3,134.6L393.9,134.6L394.2,134.5L394.8,134.5L395.1,134.4L395.4,134.4L395.7,134.3L396,134.3L396.2,134.2L396.8,134.2L397.1,134.1L397.4,134.1L397.7,134L398,134L398.3,133.9L398.6,133.9L398.9,133.8L399.2,133.8L399.4,133.7L399.7,133.7L400,133.6L400.3,133.6L400.6,133.5L400.9,133.5L401.2,133.4L401.5,133.4L402.1,133.2L402.4,133.2L402.6,133.1L402.9,133.1L403.2,133L403.5,133L403.8,132.9L404.1,132.9L404.4,132.8L404.7,132.8L405.3,132.6L405.6,132.6L405.8,132.5L406.1,132.5L406.4,132.4L406.7,132.4L407.3,132.2L407.6,132.2L407.9,132.1L408.2,132.1L408.5,132L408.8,132L409,131.9L409.3,131.8L409.6,131.8L409.9,131.7L410.2,131.7L410.8,131.5L411.1,131.5L411.4,131.4L411.7,131.4L412,131.3L412.2,131.2L412.5,131.2L412.8,131.1L413.1,131.1L413.7,130.9L414,130.9L414.3,130.8L414.6,130.8L415.2,130.6L415.4,130.6L415.7,130.5L416,130.5L416.6,130.3L416.9,130.3L417.5,130.1L417.8,130.1L418.1,130L418.4,130L418.9,129.8L419.2,129.8L419.8,129.6L420.1,129.6L420.4,129.5L420.7,129.5L421.3,129.3L421.6,129.3L421.8,129.2L422.1,129.1L422.4,129.1L423,128.9L423.3,128.9L423.6,128.8L423.9,128.8L424.5,128.6L424.8,128.6L425.1,128.5L425.3,128.4L425.6,128.4L426.2,128.2L426.5,128.2L427.1,128L427.4,128L428,127.8L428.3,127.8L428.8,127.6L429.1,127.6L429.4,127.5L429.7,127.5L430.3,127.3L430.6,127.3L431.2,127.1L431.5,127.1L431.7,127L432,126.9L432.3,126.9L432.6,126.8L432.9,126.6L433.2,126.3L433.5,126.1L433.8,125.7L434.1,125.4L434.7,124.6L434.9,124.2L435.2,123.8L435.5,123.3L435.8,122.9L436.1,122.4L437.3,120.8L437.6,120.5L437.9,120.1L438.4,119.6L438.7,119.4L439,119.3L439.6,119.3L439.9,119.8L440.2,120.9L440.5,122.4L440.8,124.3L441.1,126.6L441.3,129.1L442.2,137.2L442.5,139.7L442.8,141.9L443.1,143.9L443.4,145.4L443.7,146.4L444,146.9L444.3,146.8L444.5,146.5L445.1,145.9L445.4,145.7L445.7,145.4L446,145.2L446.3,145.1L446.6,144.9L446.9,144.8L447.2,144.6L447.5,144.5L447.7,144.4L448,144.3L448.3,144.3L448.9,144.1L449.2,144.1L449.5,144L449.8,144L450.1,143.9L450.7,143.9L450.9,143.8L451.8,143.8L452.1,143.7L453.9,143.7L454.2,143.6L496.1,143.6" fill="none" stroke="#d0bc34" stroke-width="1.25" stroke-linejoin="round"/>
<path d="M383.4,51.6L383.7,53L384.3,56L384.6,57.4L384.9,60.7L385.2,72.3L385.5,97.8L385.8,105.9L386.1,109L386.3,111.9L386.6,114.5L386.9,116.7L387.2,118.5L387.5,120.1L387.8,121.5L388.4,123.9L389,125.9L389.3,126.7L389.5,127.6L389.8,128.4L391,131.2L391.3,131.7L391.6,132.3L391.9,132.8L392.5,133.6L392.7,134L393.3,134.6L394.5,135.4L394.8,135.5L396,135.5L396.2,135.4L396.8,135.4L397.1,135.3L397.4,135.3L397.7,135.2L398.3,135.2L398.6,135.1L399.2,135.1L399.4,135L399.7,135L400,134.9L400.6,134.9L400.9,134.8L401.2,134.8L401.5,134.7L402.1,134.7L402.4,134.6L402.6,134.6L402.9,134.5L403.2,134.5L403.5,134.4L404.1,134.4L404.4,134.3L404.7,134.3L405,134.2L405.3,134.2L405.6,134.1L406.1,134.1L406.4,134L406.7,134L407,133.9L407.3,133.9L407.6,133.8L407.9,133.8L408.2,133.7L408.5,133.7L408.8,133.6L409.3,133.6L409.6,133.5L409.9,133.5L410.2,133.4L410.5,133.4L410.8,133.3L411.1,133.3L411.4,133.2L411.7,133.2L412,133.1L412.2,133.1L412.5,133L412.8,133L413.1,132.9L413.4,132.9L413.7,132.8L414,132.8L414.3,132.7L414.6,132.7L414.9,132.6L415.4,132.6L415.7,132.5L416,132.5L416.3,132.4L416.6,132.4L416.9,132.3L417.2,132.3L417.5,132.2L417.8,132.2L418.1,132.1L418.4,132.1L418.6,132L418.9,132L419.2,131.9L419.5,131.9L419.8,131.8L420.1,131.8L420.4,131.7L420.7,131.7L421,131.6L421.3,131.6L421.6,131.5L421.8,131.5L422.1,131.4L422.4,131.4L422.7,131.3L423,131.3L423.6,131.1L423.9,131.1L424.2,131L424.5,131L424.8,130.9L425.1,130.9L425.3,130.8L425.6,130.8L425.9,130.7L426.2,130.7L426.5,130.6L426.8,130.6L427.1,130.5L427.4,130.5L427.7,130.4L428,130.4L428.3,130.3L428.5,130.3L428.8,130.2L429.1,130.2L429.4,130.1L429.7,130.1L430.3,129.9L430.6,129.9L430.9,129.8L431.2,129.8L431.5,129.7L431.7,129.7L432,129.6L432.3,129.6L432.6,129.5L432.9,129.5L433.2,129.4L433.5,129.4L433.8,129.3L434.1,129.3L434.7,129.1L434.9,129.1L435.2,129L435.5,129L435.8,128.9L436.1,128.9L436.4,128.8L436.7,128.8L437,128.7L437.3,128.7L437.9,128.5L438.1,128.5L438.4,128.4L438.7,128.4L439,128.3L439.3,128.3L439.6,128.2L439.9,128.2L440.2,128.1L440.5,128.1L441.1,127.9L441.3,127.9L441.6,127.8L441.9,127.8L442.2,127.7L442.5,127.7L442.8,127.6L443.1,127.6L443.4,127.5L443.7,127.5L444.3,127.1L445.1,126.3L446.3,124.7L446.6,124.2L446.9,123.8L447.5,122.8L447.7,122.4L448,121.9L448.6,121.1L448.9,120.8L449.2,120.4L449.5,120.1L450.1,119.7L450.7,119.5L450.9,119.6L451.2,120.1L451.5,121.1L451.8,122.6L452.1,124.5L452.4,126.8L452.7,129.3L453,131.9L453.6,137.3L453.9,139.7L454.2,142L454.4,143.9L454.7,145.4L455,146.4L455.3,146.9L455.6,146.8L456.5,145.9L456.8,145.7L457.1,145.4L457.4,145.2L457.6,145.1L457.9,144.9L458.2,144.8L458.5,144.6L459.4,144.3L459.7,144.3L460.3,144.1L460.6,144.1L460.8,144L461.1,144L461.4,143.9L462,143.9L462.3,143.8L463.2,143.8L463.5,143.7L465.2,143.7L465.5,143.6L496.1,143.6" fill="none" stroke="#bcbe38" stroke-width="1.25" stroke-linejoin="round"/>
<path d="M383.4,51.4L383.7,52.8L384.3,55.8L384.6,57.2L384.9,60.5L385.2,72.1L385.5,97.6L385.8,105.7L386.1,108.8L386.3,111.7L386.6,114.3L386.9,116.5L387.2,118.3L387.5,119.9L387.8,121.3L388.4,123.7L389,125.7L389.3,126.5L389.5,127.4L389.8,128.2L390.1,128.9L390.4,129.7L390.7,130.3L391,131L391.3,131.5L391.6,132.1L391.9,132.6L392.5,133.4L392.7,133.8L393.3,134.4L394.5,135.2L396,135.7L396.2,135.8L396.5,135.9L397.7,135.9L398,135.8L398.9,135.8L399.2,135.7L400,135.7L400.3,135.6L401.2,135.6L401.5,135.5L402.1,135.5L402.4,135.4L403.2,135.4L403.5,135.3L404.1,135.3L404.4,135.2L405,135.2L405.3,135.1L406.1,135.1L406.4,135L407,135L407.3,134.9L407.9,134.9L408.2,134.8L408.8,134.8L409,134.7L409.6,134.7L409.9,134.6L410.5,134.6L410.8,134.5L411.4,134.5L411.7,134.4L412.2,134.4L412.5,134.3L413.1,134.3L413.4,134.2L414,134.2L414.3,134.1L414.9,134.1L415.2,134L415.7,134L416,133.9L416.6,133.9L416.9,133.8L417.2,133.8L417.5,133.7L418.1,133.7L418.4,133.6L418.9,133.6L419.2,133.5L419.8,133.5L420.1,133.4L420.7,133.4L421,133.3L421.3,133.3L421.6,133.2L422.1,133.2L422.4,133.1L423,133.1L423.3,133L423.9,133L424.2,132.9L424.5,132.9L424.8,132.8L425.3,132.8L425.6,132.7L426.2,132.7L426.5,132.6L427.1,132.6L427.4,132.5L427.7,132.5L428,132.4L428.5,132.4L428.8,132.3L429.4,132.3L429.7,132.2L430,132.2L430.3,132.1L430.9,132.1L431.2,132L431.5,132L431.7,131.9L432.3,131.9L432.6,131.8L433.2,131.8L433.5,131.7L433.8,131.7L434.1,131.6L434.7,131.6L434.9,131.5L435.5,131.5L435.8,131.4L436.1,131.4L436.4,131.3L437,131.3L437.3,131.2L437.6,131.2L437.9,131.1L438.4,131.1L438.7,131L439,131L439.3,130.9L439.9,130.9L440.2,130.8L440.5,130.8L440.8,130.7L441.3,130.7L441.6,130.6L442.2,130.6L442.5,130.5L442.8,130.5L443.1,130.4L443.7,130.4L444,130.3L444.3,130.3L444.5,130.2L445.1,130.2L445.4,130.1L445.7,130.1L446,130L446.6,130L446.9,129.9L447.2,129.9L447.5,129.8L448,129.8L448.3,129.7L448.6,129.7L448.9,129.6L449.5,129.6L449.8,129.5L450.1,129.5L450.4,129.4L450.7,129.4L450.9,129.3L451.5,129.3L451.8,129.2L452.1,129.2L452.4,129.1L453,129.1L453.3,129L453.6,129L453.9,128.9L454.4,128.9L454.7,128.8L455,128.8L455.3,128.7L455.6,128.7L456.5,128.4L456.8,128.1L457.1,127.9L457.4,127.6L457.9,126.9L460.6,123.3L460.8,122.9L461.4,122.3L462.3,121.7L462.9,121.5L463.2,121.6L463.5,122L463.8,123L464,124.4L464.3,126.2L464.6,128.2L464.9,130.5L465.8,138L466.1,140.3L466.4,142.3L466.7,144.1L467,145.5L467.2,146.5L467.5,146.9L467.8,146.8L468.7,145.9L469,145.7L469.3,145.4L469.6,145.2L469.9,145.1L470.4,144.8L470.7,144.6L471.6,144.3L471.9,144.3L472.5,144.1L472.8,144.1L473.1,144L473.4,144L473.6,143.9L474.2,143.9L474.5,143.8L475.4,143.8L475.7,143.7L477.4,143.7L477.7,143.6L496.1,143.6" fill="none" stroke="#92b03c" stroke-width="1.25" stroke-linejoin="round"/>
<path d="M383.4,51.2L383.7,52.6L384.3,55.6L384.6,57L384.9,60.3L385.2,71.9L385.5,97.4L385.8,105.5L386.1,108.6L386.3,111.5L386.6,114.1L386.9,116.3L387.2,118.1L387.5,119.7L387.8,121.1L388.4,123.5L389,125.5L389.3,126.4L389.5,127.2L389.8,128L390.1,128.7L390.4,129.5L390.7,130.1L391,130.8L391.3,131.3L391.6,131.9L391.9,132.4L392.5,133.2L392.7,133.6L393.3,134.2L394.5,135L396,135.5L396.2,135.6L398,136.2L398.3,136.4L399.7,136.4L400,136.3L400.9,136.3L401.2,136.2L402.1,136.2L402.4,136.1L403.2,136.1L403.5,136L404.1,136L404.4,135.9L405.3,135.9L405.6,135.8L406.4,135.8L406.7,135.7L407.3,135.7L407.6,135.6L408.2,135.6L408.5,135.5L409.3,135.5L409.6,135.4L410.2,135.4L410.5,135.3L411.1,135.3L411.4,135.2L412.2,135.2L412.5,135.1L413.1,135.1L413.4,135L414,135L414.3,134.9L414.9,134.9L415.2,134.8L415.7,134.8L416,134.7L416.6,134.7L416.9,134.6L417.5,134.6L417.8,134.5L418.6,134.5L418.9,134.4L419.5,134.4L419.8,134.3L420.4,134.3L420.7,134.2L421.3,134.2L421.6,134.1L422.1,134.1L422.4,134L422.7,134L423,133.9L423.6,133.9L423.9,133.8L424.5,133.8L424.8,133.7L425.3,133.7L425.6,133.6L426.2,133.6L426.5,133.5L427.1,133.5L427.4,133.4L428,133.4L428.3,133.3L428.8,133.3L429.1,133.2L429.7,133.2L430,133.1L430.6,133.1L430.9,133L431.2,133L431.5,132.9L432,132.9L432.3,132.8L432.9,132.8L433.2,132.7L433.8,132.7L434.1,132.6L434.7,132.6L434.9,132.5L435.2,132.5L435.5,132.4L436.1,132.4L436.4,132.3L437,132.3L437.3,132.2L437.9,132.2L438.1,132.1L438.4,132.1L438.7,132L439.3,132L439.6,131.9L440.2,131.9L440.5,131.8L441.1,131.8L441.3,131.7L441.6,131.7L441.9,131.6L442.5,131.6L442.8,131.5L443.4,131.5L443.7,131.4L444,131.4L444.3,131.3L444.8,131.3L445.1,131.2L445.7,131.2L446,131.1L446.3,131.1L446.6,131L447.2,131L447.5,130.9L448,130.9L448.3,130.8L448.6,130.8L448.9,130.7L449.5,130.7L449.8,130.6L450.4,130.6L450.7,130.5L450.9,130.5L451.2,130.4L451.8,130.4L452.1,130.3L452.7,130.3L453,130.2L453.3,130.2L453.6,130.1L454.2,130.1L454.4,130L454.7,130L455,129.9L455.6,129.9L455.9,129.8L456.5,129.8L456.8,129.7L457.1,129.7L457.4,129.6L457.9,129.6L458.2,129.5L458.5,129.5L458.8,129.4L459.4,129.4L459.7,129.3L460.3,129.3L460.6,129.2L460.8,129.2L461.1,129.1L461.7,129.1L462,129L462.3,129L462.6,128.9L463.2,128.9L463.5,128.8L463.8,128.8L464,128.7L464.6,128.7L464.9,128.6L465.2,128.6L465.5,128.5L466.1,128.5L466.4,128.4L467,128.4L467.5,128.2L467.8,128L468.7,127.1L469.9,125.5L470.2,125L470.4,124.6L471,123.6L471.3,123.2L471.6,122.7L472.2,121.9L472.5,121.6L472.8,121.2L473.1,120.9L473.4,120.7L473.6,120.5L474.2,120.3L474.5,120.4L474.8,120.9L475.1,121.9L475.4,123.3L475.7,125.2L476,127.4L476.3,129.8L476.6,132.3L476.8,135L477.4,140L477.7,142.1L478,144L478.3,145.4L478.6,146.4L478.9,146.9L479.2,146.8L479.8,146.2L480,145.9L480.3,145.7L480.6,145.4L480.9,145.2L481.2,145.1L481.5,144.9L481.8,144.8L482.1,144.6L483,144.3L483.3,144.3L483.5,144.2L483.8,144.1L484.1,144.1L484.4,144L484.7,144L485,143.9L485.6,143.9L485.9,143.8L486.7,143.8L487,143.7L488.8,143.7L489.1,143.6L496.1,143.6" fill="none" stroke="#3c8040" stroke-width="1.25" stroke-linejoin="round"/>
<path d="M383.4,144.1L383.4,51L383.7,52.4L384.3,55.4L384.6,56.8L384.9,60.1L385.2,71.7L385.5,97.2L385.8,105.3L386.1,108.4L386.3,111.3L386.6,113.9L386.9,116.1L387.2,117.9L387.5,119.5L387.8,120.9L388.4,123.3L389,125.3L389.3,126.2L389.5,127L389.8,127.8L390.1,128.5L390.4,129.3L390.7,129.9L391,130.6L391.3,131.1L391.6,131.7L391.9,132.2L392.5,133L392.7,133.4L393.3,134L394.5,134.8L396,135.3L396.2,135.4L398,136L398.3,136.2L398.6,136.3L398.9,136.5L399.2,136.6L399.4,136.7L399.7,136.9L400.3,137.1L400.9,137.1L401.2,137L402.4,137L402.6,136.9L403.8,136.9L404.1,136.8L405.3,136.8L405.6,136.7L406.4,136.7L406.7,136.6L407.6,136.6L407.9,136.5L409,136.5L409.3,136.4L410.2,136.4L410.5,136.3L411.4,136.3L411.7,136.2L412.5,136.2L412.8,136.1L413.7,136.1L414,136L414.9,136L415.2,135.9L415.7,135.9L416,135.8L416.9,135.8L417.2,135.7L418.1,135.7L418.4,135.6L419.2,135.6L419.5,135.5L420.1,135.5L420.4,135.4L421.3,135.4L421.6,135.3L422.1,135.3L422.4,135.2L423.3,135.2L423.6,135.1L424.5,135.1L424.8,135L425.3,135L425.6,134.9L426.5,134.9L426.8,134.8L427.4,134.8L427.7,134.7L428.5,134.7L428.8,134.6L429.4,134.6L429.7,134.5L430.6,134.5L430.9,134.4L431.5,134.4L431.7,134.3L432.3,134.3L432.6,134.2L433.5,134.2L433.8,134.1L434.4,134.1L434.7,134L435.5,134L435.8,133.9L436.4,133.9L436.7,133.8L437.3,133.8L437.6,133.7L438.4,133.7L438.7,133.6L439.3,133.6L439.6,133.5L440.2,133.5L440.5,133.4L441.3,133.4L441.6,133.3L442.2,133.3L442.5,133.2L443.1,133.2L443.4,133.1L444,133.1L444.3,133L445.1,133L445.4,132.9L446,132.9L446.3,132.8L446.9,132.8L447.2,132.7L447.7,132.7L448,132.6L448.9,132.6L449.2,132.5L449.8,132.5L450.1,132.4L450.7,132.4L450.9,132.3L451.5,132.3L451.8,132.2L452.4,132.2L452.7,132.1L453.3,132.1L453.6,132L454.4,132L454.7,131.9L455.3,131.9L455.6,131.8L456.2,131.8L456.5,131.7L457.1,131.7L457.4,131.6L457.9,131.6L458.2,131.5L458.8,131.5L459.1,131.4L459.7,131.4L460,131.3L460.8,131.3L461.1,131.2L461.7,131.2L462,131.1L462.6,131.1L462.9,131L463.5,131L463.8,130.9L464.3,130.9L464.6,130.8L465.2,130.8L465.5,130.7L466.1,130.7L466.4,130.6L467,130.6L467.2,130.5L467.8,130.5L468.1,130.4L468.7,130.4L469,130.3L469.6,130.3L469.9,130.2L470.4,130.2L470.7,130.1L471.3,130.1L471.6,130L472.2,130L472.5,129.9L473.1,129.9L473.4,129.8L473.9,129.8L474.2,129.7L474.8,129.7L475.1,129.6L475.7,129.6L476,129.5L476.6,129.5L476.8,129.4L477.4,129.4L477.7,129.3L478.3,129.3L478.9,129.1L479.5,128.7L479.8,128.4L480,128.1L481.5,126.1L481.8,125.6L482.1,125.2L482.4,124.7L483,123.9L483.5,123.1L483.8,122.7L484.4,122.1L485,121.7L485.6,121.5L485.9,121.6L486.2,122L486.5,123L486.7,124.4L487,126.2L487.3,128.2L487.6,130.5L488.5,138L488.8,140.3L489.1,142.3L489.4,144.1L489.7,145.5L489.9,146.5L490.2,146.9L490.5,146.8L491.4,145.9L491.7,145.7L492,145.4L492.3,145.2L492.6,145.1L492.9,144.9L493.1,144.8L493.4,144.6L494.3,144.3L494.6,144.3L495.2,144.1L495.5,144.1L495.8,144L496.1,144" fill="none" stroke="#255a48" stroke-width="1.25" stroke-linejoin="round"/>
</g>
<line x1="45.5" y1="240.2" x2="45.5" y2="332.3" stroke="#111" stroke-width="1.2"/>
<line x1="45.5" y1="329" x2="164.4" y2="329" stroke="#111" stroke-width="1.2"/>
<line x1="42.5" y1="323.5" x2="45.5" y2="323.5" stroke="#111" stroke-width="1.2"/>
<line x1="42.5" y1="296.57" x2="45.5" y2="296.57" stroke="#111" stroke-width="1.2"/>
<line x1="42.5" y1="269.64" x2="45.5" y2="269.64" stroke="#111" stroke-width="1.2"/>
<line x1="42.5" y1="242.71" x2="45.5" y2="242.71" stroke="#111" stroke-width="1.2"/>
<line x1="43.5" y1="310.04" x2="45.5" y2="310.04" stroke="#111" stroke-width="1.2"/>
<line x1="43.5" y1="283.11" x2="45.5" y2="283.11" stroke="#111" stroke-width="1.2"/>
<line x1="43.5" y1="256.18" x2="45.5" y2="256.18" stroke="#111" stroke-width="1.2"/>
<line x1="45.4" y1="329" x2="45.4" y2="332" stroke="#111" stroke-width="1.2"/>
<line x1="74.2" y1="329" x2="74.2" y2="332" stroke="#111" stroke-width="1.2"/>
<line x1="103" y1="329" x2="103" y2="332" stroke="#111" stroke-width="1.2"/>
<line x1="131.8" y1="329" x2="131.8" y2="332" stroke="#111" stroke-width="1.2"/>
<line x1="160.6" y1="329" x2="160.6" y2="332" stroke="#111" stroke-width="1.2"/>
<line x1="59.8" y1="329" x2="59.8" y2="331" stroke="#111" stroke-width="1.2"/>
<line x1="88.6" y1="329" x2="88.6" y2="331" stroke="#111" stroke-width="1.2"/>
<line x1="117.4" y1="329" x2="117.4" y2="331" stroke="#111" stroke-width="1.2"/>
<line x1="146.2" y1="329" x2="146.2" y2="331" stroke="#111" stroke-width="1.2"/>
<text transform="translate(39.4,326.8) scale(0.92,1)" font-size="9.8" text-anchor="end" letter-spacing="0.65" fill="#222">0</text>
<text transform="translate(39.4,299.87) scale(0.92,1)" font-size="9.8" text-anchor="end" letter-spacing="0.65" fill="#222">10</text>
<text transform="translate(39.4,272.94) scale(0.92,1)" font-size="9.8" text-anchor="end" letter-spacing="0.65" fill="#222">20</text>
<text transform="translate(39.4,246.01) scale(0.92,1)" font-size="9.8" text-anchor="end" letter-spacing="0.65" fill="#222">30</text>
<text transform="translate(45.4,344.2) scale(0.92,1)" font-size="9.8" text-anchor="middle" fill="#222">0</text>
<text transform="translate(74.2,344.2) scale(0.92,1)" font-size="9.8" text-anchor="middle" fill="#222">1</text>
<text transform="translate(103,344.2) scale(0.92,1)" font-size="9.8" text-anchor="middle" fill="#222">2</text>
<text transform="translate(131.8,344.2) scale(0.92,1)" font-size="9.8" text-anchor="middle" fill="#222">3</text>
<text transform="translate(160.6,344.2) scale(0.92,1)" font-size="9.8" text-anchor="middle" fill="#222">4</text>
<path d="M46.3,323.5L152,323.5" fill="none" stroke="#dc5040" stroke-width="1.25" stroke-linejoin="round"/>
<path d="M46.3,323.5L46.3,296.1L46.6,295.1L46.8,294.3L47.1,293.7L47.4,293.3L47.7,293L48,292.9L48.3,293L48.9,293.4L49.1,293.8L49.4,294.1L50,294.9L50.3,295.4L50.6,295.8L50.9,296.4L51.2,296.9L51.4,297.5L51.7,298L52,298.6L52.3,299.1L52.6,299.7L52.9,300.2L53.2,300.8L53.5,301.3L53.8,301.9L54,302.5L54.6,303.7L55.2,305.1L55.8,306.9L56.1,307.9L56.3,308.9L56.6,310.1L56.9,311.4L57.2,312.6L57.5,314L57.8,315.2L58.1,316.3L58.4,317.3L58.6,318.3L59.2,319.9L59.5,320.6L60.1,321.6L60.4,322L60.7,322.3L61,322.5L61.2,322.8L62.7,323.3L63,323.3L63.3,323.4L64.1,323.4L64.4,323.5L152,323.5" fill="none" stroke="#c84438" stroke-width="1.25" stroke-linejoin="round"/>
<path d="M46.3,323.5L46.3,293.4L46.6,292.4L46.8,291.4L47.1,290.7L47.4,290.2L47.7,289.8L48,289.6L48.3,289.6L48.6,289.7L48.9,289.9L49.1,290.2L50.3,291.4L50.9,292.2L51.2,292.7L51.4,293.1L51.7,293.6L52,294L52.3,294.5L52.6,294.9L53.2,295.5L53.5,295.9L53.8,296.2L54,296.5L55.5,297.5L55.8,297.6L56.1,297.8L56.6,298L56.9,298.2L57.2,298.3L57.5,298.5L58.1,298.7L58.9,299.2L59.2,299.3L59.5,299.5L59.8,299.6L60.7,300.2L61,300.3L61.2,300.5L61.8,300.9L62.1,301.2L62.4,301.4L62.7,301.7L63,301.9L63.3,302.2L63.5,302.6L63.8,302.9L64.4,303.7L65,304.7L65.3,305.3L65.6,306L65.8,306.7L66.4,308.5L67,310.7L67.6,313.1L67.9,314.4L68.2,315.5L68.4,316.6L68.7,317.6L69,318.5L69.6,320.1L69.9,320.7L70.5,321.7L70.7,322.1L71,322.4L71.6,322.8L71.9,322.9L72.2,323.1L72.5,323.2L72.8,323.2L73,323.3L73.3,323.3L73.6,323.4L74.5,323.4L74.8,323.5L152,323.5" fill="none" stroke="#cc5c2c" stroke-width="1.25" stroke-linejoin="round"/>
<path d="M46.3,323.5L46.3,292.3L46.6,291.3L46.8,290.3L47.1,289.6L47.4,289L47.7,288.6L48,288.4L48.3,288.4L48.6,288.5L48.9,288.7L50,289.8L50.3,290.2L50.6,290.5L50.9,291L51.2,291.4L51.4,291.8L51.7,292.3L52.6,293.5L53.8,294.7L54,295L54.9,295.6L55.5,295.8L55.8,296L56.6,296.3L57.2,296.5L57.5,296.5L58.4,296.8L59.2,297.1L59.5,297.1L61,297.6L61.5,297.8L63.3,298.4L63.8,298.7L64.7,299L65,299.2L65.6,299.4L65.8,299.6L66.1,299.7L66.4,299.9L66.7,300L67,300.2L67.3,300.3L67.9,300.7L68.2,300.8L68.4,301L69.9,302L70.2,302.3L70.5,302.5L70.7,302.8L71.6,303.7L72.2,304.5L72.8,305.5L73,306.1L73.3,306.7L73.9,308.3L74.2,309.2L74.5,310.2L75.1,312.4L75.4,313.6L75.6,314.8L75.9,315.9L76.5,317.9L77.1,319.5L77.4,320.2L77.7,320.8L77.9,321.4L78.2,321.8L78.8,322.4L79.7,323L80.2,323.2L80.5,323.2L80.8,323.3L81.1,323.3L81.4,323.4L82.3,323.4L82.6,323.5L152,323.5" fill="none" stroke="#d08030" stroke-width="1.25" stroke-linejoin="round"/>
<path d="M46.3,323.5L46.3,291.5L46.6,290.4L46.8,289.5L47.1,288.7L47.4,288.2L47.7,287.8L48,287.6L48.3,287.6L48.6,287.7L48.9,287.9L50,289L50.3,289.4L50.6,289.7L50.9,290.1L51.2,290.6L51.4,291L51.7,291.5L52.6,292.7L53.2,293.3L53.5,293.7L53.8,293.9L54,294.2L54.9,294.8L56.1,295.2L56.3,295.3L57.5,295.7L57.8,295.7L58.4,295.9L58.6,296L58.9,296L59.5,296.2L59.8,296.2L60.4,296.4L60.7,296.4L61,296.5L61.2,296.6L61.5,296.7L61.8,296.7L63,297.1L63.3,297.1L63.8,297.3L65.6,297.9L65.8,297.9L67.9,298.6L68.2,298.8L69,299.1L69.6,299.3L69.9,299.5L70.5,299.7L71,300L71.3,300.1L71.6,300.3L72.2,300.5L72.8,300.9L73.6,301.4L73.9,301.5L75.4,302.5L75.6,302.8L75.9,303L76.5,303.6L76.8,303.8L77.1,304.2L77.4,304.5L77.7,304.9L77.9,305.3L78.2,305.7L78.5,306.2L79.1,307.4L79.4,308.1L79.7,308.9L80,309.8L80.2,310.8L80.5,311.8L81.1,314L81.4,315.2L81.7,316.3L82.3,318.1L82.6,318.9L82.8,319.7L83.1,320.4L83.4,321L83.7,321.4L84,321.9L84.6,322.5L84.9,322.7L85.1,322.9L86.3,323.3L86.6,323.3L86.9,323.4L88,323.4L88.3,323.5L152,323.5" fill="none" stroke="#d6a030" stroke-width="1.25" stroke-linejoin="round"/>
<path d="M46.3,323.5L46.3,290.9L46.6,289.9L46.8,288.9L47.1,288.2L47.4,287.6L47.7,287.2L48.3,287L48.9,287.4L50,288.5L50.3,288.9L50.6,289.2L50.9,289.6L51.2,290.1L51.4,290.5L51.7,291L52.9,292.6L54,293.7L54.9,294.3L55.5,294.5L55.8,294.7L56.3,294.9L56.6,294.9L57.5,295.2L57.8,295.2L58.4,295.4L58.6,295.4L59.2,295.6L59.5,295.6L59.8,295.7L60.1,295.7L60.7,295.9L61,295.9L61.2,296L61.5,296.1L61.8,296.1L62.4,296.3L62.7,296.3L63.3,296.5L63.5,296.5L64.4,296.8L64.7,296.8L65.3,297L65.6,297L65.8,297.1L66.4,297.3L66.7,297.3L67.6,297.6L67.9,297.6L68.2,297.7L68.4,297.8L69.3,298.1L69.6,298.1L70.5,298.4L70.7,298.5L72.8,299.2L73,299.3L74.8,299.9L75.1,300.1L75.4,300.2L75.9,300.5L76.5,300.7L76.8,300.9L77.1,301L77.4,301.2L77.7,301.3L77.9,301.5L78.2,301.6L78.5,301.8L78.8,301.9L79.7,302.5L80,302.6L80.2,302.8L82,304L82.3,304.3L82.6,304.5L82.8,304.8L83.7,305.7L84.3,306.5L84.9,307.5L85.1,308.1L85.7,309.5L86,310.3L86.3,311.3L86.6,312.2L87.2,314.4L87.4,315.5L87.7,316.5L88.3,318.3L88.6,319.1L89.2,320.5L89.8,321.5L90,321.9L90.6,322.5L91.2,322.9L92.1,323.2L92.3,323.3L92.6,323.3L92.9,323.4L94.1,323.4L94.4,323.5L152,323.5" fill="none" stroke="#d0bc34" stroke-width="1.25" stroke-linejoin="round"/>
<path d="M46.3,323.5L46.3,290.5L46.6,289.5L46.8,288.5L47.1,287.8L47.4,287.3L47.7,286.9L48,286.7L48.3,286.7L48.6,286.8L48.9,287L49.7,287.8L50,288.2L50.3,288.5L51.2,289.7L51.4,290.2L51.7,290.7L52.6,291.9L53.8,293.1L54,293.4L54.9,294L56.1,294.4L56.3,294.5L57.2,294.8L57.5,294.8L58.1,295L58.4,295L58.6,295.1L58.9,295.2L59.2,295.2L59.5,295.3L59.8,295.3L60.4,295.5L60.7,295.5L61,295.6L61.2,295.6L61.8,295.8L62.1,295.8L62.7,296L63,296L63.3,296.1L63.5,296.1L64.1,296.3L64.4,296.3L65,296.5L65.3,296.5L65.8,296.7L66.1,296.7L66.4,296.8L66.7,296.8L67.3,297L67.6,297L68.2,297.2L68.4,297.3L68.7,297.3L69.3,297.5L69.6,297.5L70.2,297.7L70.5,297.7L70.7,297.8L71.3,298L71.6,298L72.5,298.3L72.8,298.3L73.6,298.6L74.2,298.8L74.5,298.8L75.4,299.1L75.9,299.3L77.7,299.9L77.9,300L78.8,300.3L79.1,300.5L80,300.8L80.8,301.1L81.1,301.2L81.4,301.4L82.6,301.8L82.8,301.9L83.1,302.1L84,302.4L84.3,302.6L84.9,302.8L85.1,303L85.7,303.2L86,303.4L86.3,303.5L86.6,303.7L86.9,303.8L87.2,304L87.4,304.2L89.2,305.4L89.8,306L90,306.3L90.9,307.5L91.2,308L91.8,309.2L92.1,310L92.3,310.8L92.6,311.6L93.5,314.6L93.8,315.7L94.1,316.7L94.4,317.6L94.6,318.5L95.5,320.6L96.1,321.6L96.4,322L96.7,322.3L97,322.5L97.2,322.7L97.5,322.9L98.7,323.3L99,323.3L99.3,323.4L100.1,323.4L100.4,323.5L152,323.5" fill="none" stroke="#bcbe38" stroke-width="1.25" stroke-linejoin="round"/>
<path d="M46.3,323.5L46.3,290.2L46.6,289.2L46.8,288.2L47.1,287.5L47.4,287L47.7,286.6L48,286.4L48.3,286.4L48.6,286.5L48.9,286.7L49.1,287L50,287.9L51.2,289.5L51.4,290L51.7,290.4L52,290.9L52.6,291.7L53.8,292.9L54,293.2L54.9,293.8L56.1,294.2L56.3,294.3L57.5,294.7L57.8,294.7L58.4,294.9L58.6,294.9L58.9,295L59.2,295L59.8,295.2L60.1,295.2L60.4,295.3L60.7,295.3L61,295.4L61.2,295.4L61.8,295.6L62.1,295.6L62.4,295.7L62.7,295.7L63.3,295.9L63.5,295.9L64.1,296.1L64.4,296.1L64.7,296.2L65,296.2L65.6,296.4L65.8,296.4L66.1,296.5L66.4,296.5L67,296.7L67.3,296.7L67.9,296.9L68.2,296.9L68.4,297L68.7,297L69.3,297.2L69.6,297.2L70.2,297.4L70.5,297.4L70.7,297.5L71,297.6L71.3,297.6L71.9,297.8L72.2,297.8L72.8,298L73,298L73.9,298.3L74.2,298.3L75.1,298.6L75.4,298.6L75.9,298.8L76.8,299.1L77.1,299.1L77.7,299.3L78.5,299.6L78.8,299.7L79.1,299.7L80,300L80.2,300.1L81.1,300.4L81.4,300.4L82.6,300.8L82.8,300.9L83.1,300.9L84.6,301.4L84.9,301.4L85.1,301.5L86.3,301.9L86.6,301.9L87.2,302.1L87.7,302.3L89.8,303L90,303.1L90.3,303.2L90.6,303.4L91.5,303.7L91.8,303.9L92.1,304L92.3,304.2L92.6,304.3L92.9,304.5L93.2,304.6L94.4,305.4L94.6,305.6L94.9,305.8L95.5,306.4L95.8,306.6L96.1,307L96.4,307.3L96.7,307.7L97,308.2L97.2,308.7L97.5,309.2L98.4,311.3L99,313.1L99.3,314.1L99.5,315.1L100.1,317.1L101,319.5L101.3,320.2L101.6,320.7L101.8,321.3L102.4,322.1L102.7,322.4L103.3,322.8L103.6,322.9L103.9,323.1L104.2,323.2L104.4,323.2L104.7,323.3L105,323.3L105.3,323.4L106.2,323.4L106.5,323.5L152,323.5" fill="none" stroke="#92b03c" stroke-width="1.25" stroke-linejoin="round"/>
<path d="M46.3,323.5L46.3,290L46.6,288.9L46.8,288L47.1,287.3L47.4,286.8L47.7,286.4L48,286.2L48.3,286.2L48.6,286.3L48.9,286.5L49.1,286.8L50,287.7L50.3,288.1L50.6,288.4L50.9,288.9L51.2,289.3L51.4,289.8L51.7,290.2L52,290.7L52.6,291.5L53.2,292.1L53.5,292.5L54,293L54.9,293.6L55.5,293.8L55.8,294L56.3,294.2L56.6,294.2L57.5,294.5L57.8,294.5L58.4,294.7L58.6,294.7L59.2,294.9L59.5,294.9L59.8,295L60.1,295L60.7,295.2L61,295.2L61.2,295.3L61.5,295.3L62.1,295.5L62.4,295.5L62.7,295.6L63,295.6L63.3,295.7L63.5,295.8L63.8,295.8L64.4,296L64.7,296L65,296.1L65.3,296.1L65.6,296.2L65.8,296.3L66.1,296.3L66.4,296.4L66.7,296.4L67,296.5L67.3,296.5L67.9,296.7L68.2,296.7L68.4,296.8L68.7,296.9L69,296.9L69.3,297L69.6,297L70.2,297.2L70.5,297.2L70.7,297.3L71,297.3L71.6,297.5L71.9,297.5L72.5,297.7L72.8,297.7L73,297.8L73.3,297.9L73.6,297.9L74.2,298.1L74.5,298.1L75.4,298.4L75.6,298.4L76.5,298.7L76.8,298.7L77.7,299L77.9,299L79.1,299.4L79.4,299.4L80,299.6L80.2,299.7L80.5,299.7L81.4,300L81.7,300L82.3,300.2L82.6,300.2L82.8,300.3L83.1,300.4L83.4,300.4L84,300.6L84.3,300.6L84.6,300.7L84.9,300.7L85.1,300.8L85.4,300.9L85.7,300.9L86,301L86.3,301L86.6,301.1L86.9,301.1L87.2,301.2L87.4,301.3L87.7,301.3L88,301.4L88.3,301.4L88.9,301.6L89.2,301.6L89.8,301.8L90,301.8L90.6,302L90.9,302L91.8,302.3L92.1,302.3L92.9,302.6L93.2,302.7L93.5,302.7L94.4,303L94.6,303.1L95.5,303.4L95.8,303.6L97,304L97.2,304.2L97.5,304.3L97.8,304.5L98.4,304.7L99,305.1L99.3,305.2L99.5,305.4L99.8,305.6L100.1,305.7L101.3,306.5L102.1,307.3L102.4,307.5L102.7,307.8L103,308.2L103.3,308.5L103.9,309.3L104.2,309.8L104.4,310.3L104.7,310.9L105.3,312.3L105.6,313.1L106.5,315.8L106.7,316.8L107.6,319.2L107.9,319.8L108.2,320.5L108.8,321.5L109,321.9L109.6,322.5L110.2,322.9L111.4,323.3L111.6,323.3L111.9,323.4L113.1,323.4L113.4,323.5L152,323.5" fill="none" stroke="#3c8040" stroke-width="1.25" stroke-linejoin="round"/>
<path d="M46.3,323.5L46.3,289.8L46.6,288.8L46.8,287.9L47.1,287.1L47.4,286.6L47.7,286.3L48,286.1L48.3,286.1L48.6,286.2L48.9,286.4L49.1,286.7L50,287.6L50.3,288L50.6,288.3L50.9,288.8L51.2,289.2L51.4,289.7L51.7,290.1L52,290.6L52.6,291.4L53.2,292L53.5,292.4L54,292.9L54.9,293.5L55.2,293.6L55.5,293.8L56.1,294L56.3,294.1L56.6,294.2L56.9,294.2L57.8,294.5L58.1,294.5L58.6,294.7L58.9,294.7L59.2,294.8L59.5,294.8L60.1,295L60.4,295L60.7,295.1L61,295.1L61.5,295.3L61.8,295.3L62.1,295.4L62.4,295.4L63,295.6L63.3,295.6L63.8,295.8L64.1,295.8L64.4,295.9L64.7,295.9L65.3,296.1L65.6,296.1L65.8,296.2L66.1,296.2L66.4,296.3L66.7,296.3L67.3,296.5L67.6,296.5L67.9,296.6L68.2,296.6L68.7,296.8L69,296.8L69.3,296.9L69.6,296.9L70.2,297.1L70.5,297.1L71,297.3L71.3,297.3L71.6,297.4L71.9,297.4L72.5,297.6L72.8,297.6L73.3,297.8L73.6,297.8L74.2,298L74.5,298L75.1,298.2L75.4,298.2L75.6,298.3L75.9,298.4L76.2,298.4L77.1,298.7L77.4,298.7L78.2,299L78.5,299L79.4,299.3L79.7,299.3L80,299.4L80.2,299.5L80.5,299.5L81.1,299.7L81.4,299.7L82,299.9L82.3,299.9L82.6,300L82.8,300.1L83.1,300.1L83.4,300.2L83.7,300.2L84,300.3L84.3,300.3L84.6,300.4L84.9,300.4L85.1,300.5L85.4,300.5L85.7,300.6L86,300.6L86.3,300.7L86.6,300.7L86.9,300.8L87.2,300.8L87.4,300.9L87.7,300.9L88,301L88.3,301L88.6,301.1L88.9,301.1L89.2,301.2L89.8,301.2L90,301.3L90.3,301.3L90.6,301.4L90.9,301.4L91.2,301.5L91.5,301.5L92.1,301.7L92.3,301.7L92.6,301.8L92.9,301.8L93.2,301.9L93.5,301.9L94.1,302.1L94.4,302.1L94.9,302.3L95.2,302.3L95.8,302.5L96.1,302.5L97,302.8L97.8,303.1L98.1,303.1L99.3,303.5L99.5,303.6L100.4,303.9L100.7,304.1L101.6,304.4L101.8,304.5L102.1,304.6L102.4,304.8L103.3,305.1L103.6,305.3L103.9,305.4L104.2,305.6L104.7,305.8L105,306L105.3,306.1L105.6,306.3L105.9,306.4L106.5,306.8L106.7,306.9L108.8,308.3L109.3,308.8L109.6,309L110.8,310.2L111.4,311L111.6,311.4L111.9,311.9L112.8,313.7L113.1,314.4L113.7,316L113.9,316.8L114.2,317.7L114.8,319.1L115.4,320.3L116,321.3L116.2,321.7L117.1,322.6L117.4,322.8L118.6,323.2L118.8,323.3L119.1,323.3L119.4,323.4L120.6,323.4L120.9,323.5L152,323.5" fill="none" stroke="#255a48" stroke-width="1.25" stroke-linejoin="round"/>
<line x1="259.9" y1="240.5" x2="259.9" y2="331.8" stroke="#111" stroke-width="1.2"/>
<line x1="259.9" y1="328.9" x2="378.9" y2="328.9" stroke="#111" stroke-width="1.2"/>
<line x1="256.9" y1="323.3" x2="259.9" y2="323.3" stroke="#111" stroke-width="1.2"/>
<line x1="256.9" y1="296.5" x2="259.9" y2="296.5" stroke="#111" stroke-width="1.2"/>
<line x1="256.9" y1="269.7" x2="259.9" y2="269.7" stroke="#111" stroke-width="1.2"/>
<line x1="256.9" y1="242.9" x2="259.9" y2="242.9" stroke="#111" stroke-width="1.2"/>
<line x1="257.9" y1="309.9" x2="259.9" y2="309.9" stroke="#111" stroke-width="1.2"/>
<line x1="257.9" y1="283.1" x2="259.9" y2="283.1" stroke="#111" stroke-width="1.2"/>
<line x1="257.9" y1="256.3" x2="259.9" y2="256.3" stroke="#111" stroke-width="1.2"/>
<line x1="259.9" y1="328.9" x2="259.9" y2="331.9" stroke="#111" stroke-width="1.2"/>
<line x1="288.75" y1="328.9" x2="288.75" y2="331.9" stroke="#111" stroke-width="1.2"/>
<line x1="317.6" y1="328.9" x2="317.6" y2="331.9" stroke="#111" stroke-width="1.2"/>
<line x1="346.45" y1="328.9" x2="346.45" y2="331.9" stroke="#111" stroke-width="1.2"/>
<line x1="375.3" y1="328.9" x2="375.3" y2="331.9" stroke="#111" stroke-width="1.2"/>
<line x1="274.32" y1="328.9" x2="274.32" y2="330.9" stroke="#111" stroke-width="1.2"/>
<line x1="303.17" y1="328.9" x2="303.17" y2="330.9" stroke="#111" stroke-width="1.2"/>
<line x1="332.02" y1="328.9" x2="332.02" y2="330.9" stroke="#111" stroke-width="1.2"/>
<line x1="360.88" y1="328.9" x2="360.88" y2="330.9" stroke="#111" stroke-width="1.2"/>
<text transform="translate(253.8,326.6) scale(0.92,1)" font-size="9.8" text-anchor="end" letter-spacing="0.65" fill="#222">0</text>
<text transform="translate(253.8,299.8) scale(0.92,1)" font-size="9.8" text-anchor="end" letter-spacing="0.65" fill="#222">10</text>
<text transform="translate(253.8,273) scale(0.92,1)" font-size="9.8" text-anchor="end" letter-spacing="0.65" fill="#222">20</text>
<text transform="translate(253.8,246.2) scale(0.92,1)" font-size="9.8" text-anchor="end" letter-spacing="0.65" fill="#222">30</text>
<text transform="translate(259.9,343.9) scale(0.92,1)" font-size="9.8" text-anchor="middle" fill="#222">0</text>
<text transform="translate(288.75,343.9) scale(0.92,1)" font-size="9.8" text-anchor="middle" fill="#222">1</text>
<text transform="translate(317.6,343.9) scale(0.92,1)" font-size="9.8" text-anchor="middle" fill="#222">2</text>
<text transform="translate(346.45,343.9) scale(0.92,1)" font-size="9.8" text-anchor="middle" fill="#222">3</text>
<text transform="translate(375.3,343.9) scale(0.92,1)" font-size="9.8" text-anchor="middle" fill="#222">4</text>
<path d="M260.8,323.3L375.3,323.3" fill="none" stroke="#dc5040" stroke-width="1.25" stroke-linejoin="round"/>
<path d="M260.8,323.3L260.8,294.2L261.1,288.9L261.3,284.7L261.6,283.8L261.9,284L262.2,284.1L263.4,284.9L263.7,285.3L263.9,285.9L264.2,286.4L264.5,287L264.8,287.5L265.7,289.3L266,289.8L266.2,290.4L266.5,291L266.8,291.5L267.1,292.1L267.4,292.6L268.3,294.4L268.6,295.1L268.8,295.7L269.1,296.4L270,298.8L270.3,299.8L270.6,300.9L270.9,302.1L271.2,303.5L271.4,305L272,308.4L272.3,310.3L272.6,312.1L272.9,313.7L273.2,315.2L273.5,316.6L273.7,317.9L274,319L274.3,319.9L274.6,320.6L274.9,321.2L275.2,321.7L275.5,322.1L275.8,322.4L276.1,322.6L276.3,322.8L277.2,323.1L277.5,323.1L277.8,323.2L278.7,323.2L278.9,323.3L375.3,323.3" fill="none" stroke="#c84438" stroke-width="1.25" stroke-linejoin="round"/>
<path d="M260.8,323.3L260.8,289.9L261.1,284.1L261.3,279.4L261.6,278.2L262.2,278.4L262.5,278.4L262.8,278.5L263.1,278.5L263.4,278.7L263.7,279.1L263.9,279.6L264.2,280L264.8,281L265.1,281.4L265.7,282.4L266,282.8L266.2,283.3L268,285.7L268.3,286L268.6,286.4L268.8,286.7L269.1,287.1L269.7,287.7L270,287.9L270.6,288.5L271.2,288.9L271.4,289.2L273.2,290.4L273.7,290.9L274.6,291.5L274.9,291.8L275.2,292L275.5,292.3L275.8,292.5L276.1,292.8L276.3,293.1L277.2,294L277.5,294.4L277.8,294.7L278.1,295.1L278.4,295.6L278.7,296L278.9,296.5L279.2,297.1L279.5,297.6L280.1,299L280.4,299.8L280.7,300.7L281,301.7L281.2,302.8L281.5,304.1L281.8,305.6L282.1,307.2L282.7,310.6L283,312.4L283.3,314L283.6,315.4L283.8,316.8L284.1,318L284.4,319.1L284.7,320L285,320.7L285.3,321.3L285.9,322.1L286.4,322.6L286.7,322.8L287.6,323.1L287.9,323.1L288.2,323.2L289,323.2L289.3,323.3L375.3,323.3" fill="none" stroke="#cc5c2c" stroke-width="1.25" stroke-linejoin="round"/>
<path d="M260.8,323.3L260.8,287.5L261.1,281.7L261.3,276.8L261.6,275.2L261.9,275.2L262.2,275.3L262.8,275.3L263.1,275.5L263.7,276.3L263.9,276.7L264.2,277.2L264.8,278L265.1,278.5L265.7,279.3L266,279.8L266.2,280.2L266.5,280.6L266.8,280.9L267.4,281.7L268,282.3L268.3,282.7L268.6,283L268.8,283.3L269.1,283.6L269.7,284L270,284.3L270.3,284.5L270.6,284.6L271.2,285L271.4,285.1L271.7,285.2L272,285.4L273.5,285.9L273.7,286L275.2,286.5L275.5,286.7L276.1,286.9L276.3,287L276.6,287.1L276.9,287.3L277.5,287.5L278.1,287.9L278.4,288L278.7,288.2L278.9,288.4L280.4,289.4L280.7,289.5L281,289.7L281.2,289.9L281.5,290.1L281.8,290.2L282.1,290.4L282.4,290.5L283,290.9L283.3,291L284.1,291.5L284.7,291.9L285,292L286.2,292.8L286.4,293L287.3,293.6L287.6,293.9L287.9,294.1L288.2,294.4L288.5,294.6L288.8,294.9L289,295.2L289.6,295.8L289.9,296.2L290.2,296.5L290.5,297L290.8,297.4L291.1,297.9L291.3,298.5L291.6,299.1L292.2,300.7L292.5,301.7L292.8,302.8L293.1,304.1L293.4,305.5L293.7,307.1L293.9,308.8L294.5,312.4L295.1,315.4L295.7,318L296,319L296.3,319.9L296.5,320.7L296.8,321.3L297.4,322.1L297.7,322.4L298.3,322.8L298.6,322.9L298.8,323L299.1,323.1L299.4,323.1L299.7,323.2L300.6,323.2L300.9,323.3L375.3,323.3" fill="none" stroke="#d08030" stroke-width="1.25" stroke-linejoin="round"/>
<path d="M260.8,323.3L260.8,286.1L261.1,280.1L261.3,275.3L261.6,273.3L261.9,273.3L262.2,273.4L262.5,273.4L262.8,273.5L263.1,274L263.7,274.8L263.9,275.2L264.2,275.7L264.8,276.5L265.1,277L265.7,277.8L266,278.3L266.2,278.7L266.5,279.1L266.8,279.4L267.1,279.8L267.4,280.1L267.7,280.5L268.6,281.4L268.8,281.7L269.1,282L269.4,282.2L269.7,282.5L270.3,282.9L270.6,283L270.9,283.2L271.2,283.3L271.4,283.5L273.2,284.1L273.5,284.1L274,284.3L274.3,284.4L274.6,284.4L276.1,284.9L276.3,284.9L277.5,285.3L277.8,285.5L278.4,285.7L279.2,286.2L279.5,286.3L279.8,286.5L280.7,286.8L281.2,287.1L282.1,287.4L282.4,287.4L283.6,287.8L283.8,287.9L284.1,287.9L285.6,288.4L285.9,288.4L286.2,288.5L286.4,288.6L288.8,289.4L289,289.5L290.5,290L290.8,290.2L291.3,290.4L291.6,290.6L291.9,290.7L292.2,290.9L292.5,291L292.8,291.2L293.1,291.3L293.4,291.5L293.7,291.6L293.9,291.8L296.3,293.4L296.5,293.7L296.8,293.9L297.1,294.2L297.4,294.4L298.3,295.3L298.6,295.7L298.8,296L299.4,296.8L300,297.8L300.6,299L300.9,299.8L301.2,300.7L301.4,301.6L301.7,302.8L302,304.1L302.3,305.5L302.6,307.1L302.9,308.8L303.2,310.6L303.5,312.3L303.8,313.9L304,315.4L304.6,318L304.9,319L305.2,319.9L305.5,320.7L305.8,321.3L306.1,321.7L306.3,322.1L306.6,322.4L307.2,322.8L308.1,323.1L308.4,323.1L308.7,323.2L309.5,323.2L309.8,323.3L375.3,323.3" fill="none" stroke="#d6a030" stroke-width="1.25" stroke-linejoin="round"/>
<path d="M260.8,323.3L260.8,285.2L261.1,279.3L261.3,274.5L261.6,272.2L262.5,272.2L262.8,272.7L263.4,273.5L263.7,274L263.9,274.4L264.2,274.8L264.5,275.3L264.8,275.7L265.1,276.2L265.7,277L266,277.5L266.2,277.9L266.5,278.3L266.8,278.6L267.1,279L267.4,279.3L267.7,279.7L268.6,280.6L268.8,280.9L269.1,281.2L269.4,281.4L269.7,281.7L270.3,282.1L270.6,282.2L270.9,282.4L271.2,282.5L271.7,282.8L272.3,283L272.6,283L273.5,283.3L273.7,283.3L274.6,283.6L274.9,283.6L275.5,283.8L275.8,283.8L276.1,283.9L276.3,284L276.9,284.2L277.2,284.2L277.5,284.3L277.8,284.5L278.7,284.8L278.9,285L279.8,285.3L280.1,285.5L281,285.8L281.2,285.9L281.5,285.9L282.4,286.2L282.7,286.2L283,286.3L283.3,286.3L283.6,286.4L283.8,286.4L284.1,286.5L284.4,286.5L284.7,286.6L285,286.6L285.3,286.7L285.6,286.7L285.9,286.8L286.2,286.8L286.4,286.9L286.7,286.9L287,287L287.3,287L287.6,287.1L287.9,287.1L288.2,287.2L288.5,287.2L288.8,287.3L289,287.3L289.3,287.4L289.6,287.4L289.9,287.5L290.2,287.5L290.5,287.6L290.8,287.6L291.1,287.7L291.3,287.8L291.6,287.8L292.2,288L292.5,288L293.1,288.2L293.4,288.2L294.5,288.6L294.8,288.6L296.3,289.1L296.8,289.3L297.4,289.5L297.7,289.7L298.6,290L298.8,290.2L299.4,290.4L299.7,290.6L300,290.7L300.3,290.9L300.6,291L300.9,291.2L301.2,291.3L301.4,291.5L301.7,291.7L302,291.8L303.8,293L304,293.2L304.3,293.4L304.6,293.7L304.9,293.9L305.2,294.2L305.5,294.4L306.1,295L306.3,295.3L306.9,295.9L308.1,297.5L308.4,298.1L308.7,298.6L308.9,299.3L309.2,300L309.5,300.9L309.8,301.9L310.1,303L310.4,304.2L311,307.2L311.3,308.9L311.5,310.7L311.8,312.5L312.4,315.5L312.7,316.8L313,318L313.3,319.1L313.6,320L313.8,320.7L314.1,321.3L314.7,322.1L315,322.4L315.6,322.8L316.2,323L316.4,323.1L316.7,323.1L317,323.2L317.9,323.2L318.2,323.3L375.3,323.3" fill="none" stroke="#d0bc34" stroke-width="1.25" stroke-linejoin="round"/>
<path d="M260.8,323.3L260.8,284.4L261.1,278.5L261.3,273.7L261.6,271.3L262.2,271.3L262.5,271.4L263.1,272.4L263.7,273.2L263.9,273.6L264.2,274.1L264.5,274.5L264.8,275L265.1,275.4L265.4,275.9L266,276.7L266.2,277.2L266.5,277.6L266.8,277.9L267.1,278.3L267.4,278.6L267.7,279L268.3,279.6L268.6,280L268.8,280.3L269.1,280.5L269.4,280.8L270.3,281.4L270.6,281.5L270.9,281.7L271.2,281.8L271.4,282L272.6,282.4L272.9,282.4L273.5,282.6L273.7,282.7L274,282.7L274.6,282.9L274.9,282.9L275.5,283.1L275.8,283.1L276.1,283.2L276.3,283.3L276.6,283.4L276.9,283.4L278.1,283.8L278.4,284L279.2,284.3L279.5,284.5L281,285L281.2,285.1L281.5,285.1L282.1,285.3L282.4,285.3L282.7,285.4L283,285.4L283.3,285.5L283.6,285.5L283.8,285.6L284.4,285.6L284.7,285.7L285.3,285.7L285.6,285.8L286.2,285.8L286.4,285.9L287,285.9L287.3,286L288.2,286L288.5,286.1L289,286.1L289.3,286.2L289.9,286.2L290.2,286.3L291.1,286.3L291.3,286.4L291.9,286.4L292.2,286.5L292.8,286.5L293.1,286.6L293.4,286.6L293.7,286.7L294.2,286.7L294.5,286.8L294.8,286.8L295.1,286.9L295.7,286.9L296,287L296.3,287L296.5,287.1L296.8,287.1L297.1,287.2L297.4,287.2L297.7,287.3L298,287.3L298.6,287.5L298.8,287.5L299.1,287.6L299.4,287.6L300,287.8L300.3,287.8L300.9,288L301.2,288L301.4,288.1L302,288.3L302.3,288.3L303.5,288.7L303.8,288.7L304,288.8L306.1,289.5L306.3,289.6L306.9,289.8L307.2,290L308.4,290.4L308.7,290.6L309.2,290.8L309.5,291L309.8,291.1L310.1,291.3L310.4,291.4L311,291.8L311.3,291.9L311.5,292.1L312.7,292.9L313,293L313.3,293.3L313.6,293.5L313.8,293.7L314.4,294.1L314.7,294.4L315,294.6L315.9,295.5L316.2,295.7L316.4,296.1L316.7,296.4L317,296.8L317.3,297.1L317.6,297.6L317.9,298L318.2,298.5L318.8,299.7L319,300.5L319.3,301.3L319.6,302.2L319.9,303.3L320.2,304.6L320.5,306L320.8,307.5L321.4,310.9L321.6,312.6L321.9,314.2L322.2,315.6L322.5,316.9L322.8,318.1L323.1,319.2L323.4,320L323.7,320.7L323.9,321.3L324.2,321.8L324.8,322.4L325.4,322.8L326.3,323.1L326.5,323.1L326.8,323.2L327.7,323.2L328,323.3L375.3,323.3" fill="none" stroke="#bcbe38" stroke-width="1.25" stroke-linejoin="round"/>
<path d="M260.8,323.3L260.8,283.9L261.1,278L261.3,273.1L261.6,270.8L261.9,270.5L262.2,270.6L262.5,270.9L263.1,271.9L263.7,272.7L263.9,273.2L264.2,273.6L264.5,274.1L264.8,274.5L265.1,275L265.4,275.4L265.7,275.9L266,276.3L266.2,276.7L266.8,277.5L267.1,277.8L267.4,278.2L267.7,278.5L268,278.9L268.6,279.5L268.8,279.8L269.1,280.1L269.4,280.3L269.7,280.6L270.3,281L270.6,281.1L270.9,281.3L271.2,281.4L271.7,281.7L272.3,281.9L272.6,281.9L273.5,282.2L273.7,282.3L274,282.3L274.6,282.5L274.9,282.5L275.5,282.7L275.8,282.7L276.6,283L276.9,283L278.4,283.5L278.9,283.8L279.5,284L279.8,284.2L281,284.6L281.2,284.6L281.8,284.8L282.1,284.8L282.4,284.9L282.7,284.9L283,285L283.3,285L283.6,285.1L284.1,285.1L284.4,285.2L285,285.2L285.3,285.3L286.2,285.3L286.4,285.4L287.3,285.4L287.6,285.5L288.5,285.5L288.8,285.6L289.9,285.6L290.2,285.7L291.1,285.7L291.3,285.8L292.5,285.8L292.8,285.9L293.7,285.9L293.9,286L294.8,286L295.1,286.1L295.7,286.1L296,286.2L296.8,286.2L297.1,286.3L297.7,286.3L298,286.4L298.3,286.4L298.6,286.5L299.1,286.5L299.4,286.6L300,286.6L300.3,286.7L300.9,286.7L301.2,286.8L301.4,286.8L301.7,286.9L302.3,286.9L302.6,287L302.9,287L303.2,287.1L303.5,287.1L303.8,287.2L304,287.2L304.3,287.3L304.6,287.3L304.9,287.4L305.2,287.4L305.5,287.5L305.8,287.5L306.1,287.6L306.3,287.6L306.6,287.7L306.9,287.7L307.2,287.8L307.5,287.8L307.8,287.9L308.1,287.9L308.7,288.1L308.9,288.1L309.2,288.2L309.5,288.2L310.1,288.4L310.4,288.4L311.3,288.7L311.5,288.7L312.7,289.1L313,289.1L313.6,289.3L314.4,289.6L316.2,290.2L316.4,290.3L317.6,290.7L317.9,290.9L318.8,291.2L319,291.4L319.6,291.6L319.9,291.8L320.5,292L320.8,292.2L321.1,292.3L321.4,292.5L321.6,292.6L322.2,293L322.5,293.1L323.7,293.9L323.9,294.1L324.5,294.5L324.8,294.8L325.4,295.2L325.7,295.5L326,295.7L326.3,296L326.5,296.3L326.8,296.6L327.1,297L327.4,297.3L328,298.1L328.9,299.6L329.1,300.3L329.4,301L329.7,301.8L330,302.8L330.3,303.9L330.6,305.1L330.9,306.5L331.2,308L331.4,309.7L331.7,311.3L332,313L332.3,314.5L332.6,315.9L332.9,317.2L333.2,318.3L333.5,319.3L333.8,320.2L334,320.9L334.6,321.9L335.2,322.5L335.5,322.7L336.4,323L336.6,323.1L336.9,323.1L337.2,323.2L337.8,323.2L338.1,323.3L375.3,323.3" fill="none" stroke="#92b03c" stroke-width="1.25" stroke-linejoin="round"/>
<path d="M260.8,323.3L260.8,283.4L261.1,277.5L261.3,272.6L261.6,270.3L261.9,270L262.2,270.1L262.8,270.9L263.1,271.4L263.7,272.2L263.9,272.7L264.2,273.1L264.8,274.1L265.1,274.5L265.4,275L266,275.8L266.2,276.3L266.5,276.7L266.8,277L267.4,277.8L267.7,278.1L268,278.5L268.6,279.1L268.8,279.4L269.1,279.7L269.4,279.9L269.7,280.2L270.3,280.6L270.6,280.7L270.9,280.9L271.2,281L271.4,281.2L272.6,281.6L272.9,281.6L273.5,281.8L273.7,281.9L274,281.9L274.9,282.2L275.2,282.2L275.8,282.4L276.1,282.4L276.3,282.5L276.9,282.7L277.2,282.7L277.8,282.9L278.1,283.1L278.7,283.3L278.9,283.4L279.2,283.6L281,284.2L281.2,284.3L281.5,284.3L282.1,284.5L282.4,284.5L282.7,284.6L283,284.6L283.3,284.7L283.8,284.7L284.1,284.8L284.7,284.8L285,284.9L285.6,284.9L285.9,285L287,285L287.3,285.1L288.2,285.1L288.5,285.2L289.6,285.2L289.9,285.3L291.1,285.3L291.3,285.4L292.5,285.4L292.8,285.5L293.9,285.5L294.2,285.6L295.1,285.6L295.4,285.7L296.3,285.7L296.5,285.8L297.4,285.8L297.7,285.9L298.3,285.9L298.6,286L299.4,286L299.7,286.1L300.3,286.1L300.6,286.2L301.2,286.2L301.4,286.3L302,286.3L302.3,286.4L303.2,286.4L303.5,286.5L303.8,286.5L304,286.6L304.6,286.6L304.9,286.7L305.5,286.7L305.8,286.8L306.3,286.8L306.6,286.9L306.9,286.9L307.2,287L307.8,287L308.1,287.1L308.4,287.1L308.7,287.2L309.2,287.2L309.5,287.3L309.8,287.3L310.1,287.4L310.4,287.4L310.7,287.5L311,287.5L311.3,287.6L311.8,287.6L312.1,287.7L312.4,287.7L312.7,287.8L313,287.8L313.6,288L313.8,288L314.1,288.1L314.4,288.1L314.7,288.2L315,288.2L315.3,288.3L315.6,288.3L316.2,288.5L316.4,288.5L317,288.7L317.3,288.7L317.6,288.8L317.9,288.8L318.5,289L318.8,289L319,289.1L319.3,289.2L319.6,289.2L320.2,289.4L320.5,289.4L321.4,289.7L321.6,289.7L322.5,290L322.8,290L323.7,290.3L324.5,290.6L326.3,291.2L326.8,291.5L327.4,291.7L327.7,291.9L328,292L328.3,292.2L328.6,292.3L328.9,292.5L329.1,292.6L331.2,294L331.4,294.2L331.7,294.4L332,294.7L332.6,295.1L333.2,295.7L333.5,295.9L333.8,296.2L334,296.5L334.9,297.4L335.2,297.8L335.5,298.1L336.4,299.3L336.6,299.8L336.9,300.2L337.2,300.8L337.5,301.3L338.1,302.7L338.4,303.5L338.7,304.5L338.9,305.5L339.2,306.7L339.5,308L339.8,309.4L340.4,312.4L340.7,314L341,315.4L341.3,316.6L341.5,317.8L341.8,318.8L342.1,319.7L342.4,320.5L342.7,321.1L343,321.6L343.3,322L343.9,322.6L344.1,322.7L344.4,322.9L345,323.1L345.3,323.1L345.6,323.2L346.4,323.2L346.7,323.3L375.3,323.3" fill="none" stroke="#3c8040" stroke-width="1.25" stroke-linejoin="round"/>
<path d="M260.8,323.3L260.8,283.1L261.1,277.2L261.3,272.4L261.6,270.1L261.9,269.7L262.2,269.8L262.5,270.2L262.8,270.7L263.1,271.1L263.4,271.6L263.7,272L263.9,272.5L264.2,272.9L264.5,273.4L264.8,273.8L265.1,274.3L265.4,274.7L265.7,275.2L266,275.6L266.2,276L267.4,277.6L267.7,277.9L268,278.3L268.6,278.9L268.8,279.2L269.1,279.5L269.4,279.7L269.7,280L270.3,280.4L270.6,280.5L270.9,280.7L271.2,280.8L271.4,281L272.9,281.5L273.2,281.5L274,281.8L274.3,281.8L274.9,282L275.2,282L276.1,282.3L276.3,282.3L278.7,283.1L278.9,283.2L279.2,283.4L281,284L281.2,284.1L281.5,284.2L281.8,284.2L282.1,284.3L282.4,284.3L282.7,284.4L283,284.4L283.3,284.5L283.6,284.5L283.8,284.6L284.4,284.6L284.7,284.7L285.6,284.7L285.9,284.8L286.7,284.8L287,284.9L287.9,284.9L288.2,285L289.3,285L289.6,285.1L290.8,285.1L291.1,285.2L292.5,285.2L292.8,285.3L293.9,285.3L294.2,285.4L295.1,285.4L295.4,285.5L296.5,285.5L296.8,285.6L297.7,285.6L298,285.7L298.6,285.7L298.8,285.8L299.7,285.8L300,285.9L300.9,285.9L301.2,286L301.7,286L302,286.1L302.9,286.1L303.2,286.2L303.8,286.2L304,286.3L304.6,286.3L304.9,286.4L305.8,286.4L306.1,286.5L306.6,286.5L306.9,286.6L307.5,286.6L307.8,286.7L308.4,286.7L308.7,286.8L309.2,286.8L309.5,286.9L309.8,286.9L310.1,287L310.7,287L311,287.1L311.5,287.1L311.8,287.2L312.1,287.2L312.4,287.3L313,287.3L313.3,287.4L313.6,287.4L313.8,287.5L314.4,287.5L314.7,287.6L315,287.6L315.3,287.7L315.6,287.7L315.9,287.8L316.4,287.8L316.7,287.9L317,287.9L317.3,288L317.6,288L317.9,288.1L318.5,288.1L318.8,288.2L319,288.2L319.3,288.3L319.6,288.3L319.9,288.4L320.5,288.4L320.8,288.5L321.1,288.5L321.4,288.6L321.9,288.6L322.2,288.7L322.5,288.7L322.8,288.8L323.1,288.8L323.4,288.9L323.7,288.9L323.9,289L324.2,289L324.5,289.1L324.8,289.1L325.1,289.2L325.4,289.2L326,289.4L326.3,289.4L326.5,289.5L326.8,289.6L327.1,289.6L328.3,290L328.6,290L329.4,290.3L330.3,290.6L330.6,290.8L331.2,291L331.7,291.3L332.3,291.5L332.6,291.7L332.9,291.8L333.5,292.2L333.8,292.3L334,292.5L334.3,292.7L334.6,292.8L336.4,294L336.6,294.2L337.8,295L338.1,295.3L338.7,295.7L338.9,296L339.5,296.4L339.8,296.7L340.1,296.9L340.7,297.5L341,297.7L341.3,298L341.5,298.3L341.8,298.5L343.3,300L343.6,300.4L343.9,300.7L344.1,301.1L344.4,301.5L345.9,304L346.2,304.6L346.4,305.2L346.7,305.9L347,306.7L347.3,307.6L347.6,308.6L347.9,309.7L348.2,310.9L348.8,313.7L349,315.2L349.3,316.6L349.6,317.9L350.2,320.3L350.5,321.3L350.8,322.1L351.1,322.8L351.4,323.4L351.6,323.9L352.5,324.8L352.8,324.9L353.1,325.1L353.4,325.1L354,325.3L354.2,325.3L354.5,325.4L375.3,325.4" fill="none" stroke="#255a48" stroke-width="1.25" stroke-linejoin="round"/>
<line x1="392.9" y1="240.7" x2="392.9" y2="332.2" stroke="#111" stroke-width="1.2"/>
<line x1="392.9" y1="329.3" x2="512.3" y2="329.3" stroke="#111" stroke-width="1.2"/>
<line x1="389.9" y1="324" x2="392.9" y2="324" stroke="#111" stroke-width="1.2"/>
<line x1="389.9" y1="296.97" x2="392.9" y2="296.97" stroke="#111" stroke-width="1.2"/>
<line x1="389.9" y1="269.94" x2="392.9" y2="269.94" stroke="#111" stroke-width="1.2"/>
<line x1="389.9" y1="242.91" x2="392.9" y2="242.91" stroke="#111" stroke-width="1.2"/>
<line x1="390.9" y1="310.49" x2="392.9" y2="310.49" stroke="#111" stroke-width="1.2"/>
<line x1="390.9" y1="283.45" x2="392.9" y2="283.45" stroke="#111" stroke-width="1.2"/>
<line x1="390.9" y1="256.43" x2="392.9" y2="256.43" stroke="#111" stroke-width="1.2"/>
<line x1="392.9" y1="329.3" x2="392.9" y2="332.3" stroke="#111" stroke-width="1.2"/>
<line x1="421.9" y1="329.3" x2="421.9" y2="332.3" stroke="#111" stroke-width="1.2"/>
<line x1="450.9" y1="329.3" x2="450.9" y2="332.3" stroke="#111" stroke-width="1.2"/>
<line x1="479.9" y1="329.3" x2="479.9" y2="332.3" stroke="#111" stroke-width="1.2"/>
<line x1="508.9" y1="329.3" x2="508.9" y2="332.3" stroke="#111" stroke-width="1.2"/>
<line x1="407.4" y1="329.3" x2="407.4" y2="331.3" stroke="#111" stroke-width="1.2"/>
<line x1="436.4" y1="329.3" x2="436.4" y2="331.3" stroke="#111" stroke-width="1.2"/>
<line x1="465.4" y1="329.3" x2="465.4" y2="331.3" stroke="#111" stroke-width="1.2"/>
<line x1="494.4" y1="329.3" x2="494.4" y2="331.3" stroke="#111" stroke-width="1.2"/>
<text transform="translate(392.9,344.2) scale(0.92,1)" font-size="9.8" text-anchor="middle" fill="#222">0</text>
<text transform="translate(421.9,344.2) scale(0.92,1)" font-size="9.8" text-anchor="middle" fill="#222">1</text>
<text transform="translate(450.9,344.2) scale(0.92,1)" font-size="9.8" text-anchor="middle" fill="#222">2</text>
<text transform="translate(479.9,344.2) scale(0.92,1)" font-size="9.8" text-anchor="middle" fill="#222">3</text>
<text transform="translate(508.9,344.2) scale(0.92,1)" font-size="9.8" text-anchor="middle" fill="#222">4</text>
<path d="M393.8,324L508.9,324" fill="none" stroke="#dc5040" stroke-width="1.25" stroke-linejoin="round"/>
<path d="M393.8,324L393.8,295.5L394.1,292.5L394.3,289.7L394.6,287.5L394.9,286.3L395.2,286.2L395.5,286.3L396.1,286.7L396.4,287L397,288L397.2,288.6L397.5,289.1L397.8,289.8L398.1,290.4L398.4,291.1L399.6,293.5L399.9,294L400.1,294.5L401.6,297L401.9,297.4L402.5,298.4L402.8,298.8L403,299.3L403.3,299.7L404.5,301.7L405.4,303.5L405.7,304.3L405.9,305.1L406.2,306L406.5,307L406.8,308.1L407.1,309.3L407.4,310.6L407.7,312L408,313.3L408.3,314.7L408.6,315.9L408.8,317L409.4,319L409.7,319.9L410.3,321.3L410.6,321.8L411.2,322.6L411.5,322.9L411.8,323.1L412,323.3L412.3,323.5L412.9,323.7L413.2,323.7L413.5,323.8L413.8,323.8L414.1,323.9L414.9,323.9L415.2,324L508.9,324" fill="none" stroke="#c84438" stroke-width="1.25" stroke-linejoin="round"/>
<path d="M393.8,324L393.8,290.4L394.1,287L394.3,283.7L394.6,281.2L394.9,279.7L395.2,279.2L395.5,279.3L395.8,279.3L396.1,279.5L396.4,279.8L396.7,280.3L397,280.7L397.2,281.2L397.8,282.2L398.1,282.8L398.4,283.5L398.7,284L399,284.6L399.9,286.1L400.1,286.5L400.7,287.3L401,287.6L401.6,288.4L401.9,288.7L402.2,289.1L403.3,290.2L404.8,291.2L405.1,291.3L405.4,291.5L406.2,291.8L406.5,292L408.6,292.7L408.8,292.8L410,293.2L410.3,293.4L411.5,293.8L412,294.1L412.3,294.2L412.6,294.4L412.9,294.5L413.5,294.9L413.8,295L414.4,295.4L414.6,295.5L417,297.1L417.3,297.4L417.6,297.6L419.3,299.3L420.2,300.5L421.3,302.7L421.6,303.4L422.2,305.2L422.5,306.2L422.8,307.4L423.4,310L423.6,311.4L423.9,312.8L424.2,314.3L424.8,316.7L425.1,317.8L425.4,318.8L425.7,319.7L426,320.5L426.2,321.1L426.5,321.7L426.8,322.2L427.7,323.1L428,323.3L428.3,323.4L428.6,323.6L428.9,323.7L429.1,323.7L429.4,323.8L429.7,323.8L430,323.9L430.9,323.9L431.2,324L508.9,324" fill="none" stroke="#cc5c2c" stroke-width="1.25" stroke-linejoin="round"/>
<path d="M393.8,324L393.8,288.2L394.1,284.7L394.3,281.4L394.6,278.8L394.9,277.2L395.2,276.7L395.8,276.7L396.4,277.3L396.7,277.7L397,278.2L397.5,279.2L397.8,279.7L399,282.1L399.6,283.1L399.9,283.5L400.1,283.9L400.7,284.7L401,285L401.3,285.4L401.6,285.7L401.9,286.1L402.5,286.7L402.8,286.9L403,287.2L404.2,288L404.5,288.1L404.8,288.3L405.7,288.6L406.2,288.8L406.5,288.9L406.8,288.9L407.1,289L407.4,289L407.7,289.1L408,289.1L408.6,289.3L409.1,289.3L409.4,289.4L409.7,289.4L410,289.5L410.3,289.5L410.6,289.6L410.9,289.6L411.5,289.8L411.8,289.8L412,289.9L412.3,289.9L413.2,290.2L413.5,290.2L414.4,290.5L414.6,290.5L416.1,291L416.4,291L417.6,291.4L417.8,291.5L418.7,291.8L419,292L420.2,292.4L420.7,292.7L421.3,292.9L421.6,293.1L421.9,293.2L422.2,293.4L422.5,293.5L422.8,293.7L423.1,293.8L423.4,294L423.6,294.2L423.9,294.3L426,295.7L426.2,295.9L426.5,296.1L426.8,296.4L427.1,296.6L427.4,296.9L427.7,297.1L428.9,298.3L429.1,298.7L429.4,299L429.7,299.4L430.6,300.9L430.9,301.5L431.5,302.9L431.8,303.8L432.1,304.8L432.3,305.8L432.6,307L432.9,308.3L433.5,311.1L434.1,314.1L434.7,316.5L434.9,317.6L435.2,318.7L435.5,319.6L435.8,320.4L436.1,321.1L436.7,322.1L437,322.5L437.6,323.1L437.9,323.3L438.7,323.6L439.3,323.8L439.6,323.8L439.9,323.9L440.8,323.9L441,324L508.9,324" fill="none" stroke="#d08030" stroke-width="1.25" stroke-linejoin="round"/>
<path d="M393.8,324L393.8,286.6L394.1,283.1L394.3,279.8L394.6,277.2L394.9,275.6L395.2,275.1L395.5,275L395.8,275.1L396.1,275.3L396.7,276.1L397,276.6L397.2,277L397.5,277.5L399,280.5L399.6,281.5L399.9,281.9L400.1,282.3L400.7,283.1L401,283.4L401.6,284.2L402.5,285.1L402.8,285.3L403,285.6L403.9,286.2L404.2,286.3L404.5,286.5L405.7,286.9L405.9,287L406.2,287.1L406.5,287.1L406.8,287.2L407.1,287.2L407.4,287.3L408,287.3L408.3,287.4L408.8,287.4L409.1,287.5L410,287.5L410.3,287.6L410.9,287.6L411.2,287.7L411.8,287.7L412,287.8L412.6,287.8L412.9,287.9L413.2,287.9L413.5,288L414.1,288L414.4,288.1L414.6,288.1L414.9,288.2L415.2,288.2L415.5,288.3L415.8,288.3L416.1,288.4L416.4,288.4L416.7,288.5L417,288.5L417.3,288.6L417.6,288.6L417.8,288.7L418.1,288.7L418.4,288.8L418.7,288.8L419,288.9L419.3,288.9L419.9,289.1L420.2,289.1L420.7,289.3L421,289.3L421.6,289.5L421.9,289.5L423.1,289.9L423.4,289.9L423.9,290.1L426,290.8L426.5,291L426.8,291.2L427.7,291.5L428,291.7L428.9,292L429.1,292.2L429.4,292.3L429.7,292.5L430,292.6L430.3,292.8L430.6,292.9L431.2,293.3L431.5,293.4L432.1,293.8L432.3,294L434.4,295.4L435.2,296.2L435.5,296.4L437,297.9L437.9,299.1L438.1,299.5L438.4,300L439,301.2L439.3,301.9L439.6,302.7L440.2,304.5L440.5,305.6L440.8,306.8L441,308.1L441.3,309.5L442.2,314L443.1,317.6L443.7,319.6L443.9,320.4L444.5,321.6L444.8,322.1L445.1,322.5L445.7,323.1L446,323.3L446.6,323.5L446.8,323.6L447.4,323.8L447.7,323.8L448,323.9L448.9,323.9L449.2,324L508.9,324" fill="none" stroke="#d6a030" stroke-width="1.25" stroke-linejoin="round"/>
<path d="M393.8,324L393.8,285.6L394.1,282.1L394.3,278.8L394.6,276.1L394.9,274.6L395.2,274L395.5,273.9L396.1,274.3L396.7,275.1L397,275.6L397.2,276L397.5,276.5L399,279.5L399.6,280.5L399.9,280.9L400.1,281.3L400.7,282.1L401,282.4L401.3,282.8L401.6,283.1L401.9,283.5L402.2,283.8L402.5,284L403.3,284.8L403.6,285L403.9,285.1L404.2,285.3L404.5,285.4L404.8,285.6L405.1,285.6L405.7,285.8L405.9,285.9L406.2,285.9L406.5,286L406.8,286L407.1,286.1L407.7,286.1L408,286.2L409.4,286.2L409.7,286.3L411.8,286.3L412,286.4L413.5,286.4L413.8,286.5L414.9,286.5L415.2,286.6L416.4,286.6L416.7,286.7L417.8,286.7L418.1,286.8L419.3,286.8L419.6,286.9L420.7,286.9L421,287L421.9,287L422.2,287.1L423.1,287.1L423.4,287.2L423.9,287.2L424.2,287.3L424.8,287.3L425.1,287.4L425.4,287.4L425.7,287.5L426.2,287.5L426.5,287.6L426.8,287.6L427.1,287.7L427.4,287.7L427.7,287.8L428.3,287.8L428.6,287.9L428.9,287.9L429.1,288L429.4,288L429.7,288.1L430,288.1L430.6,288.3L430.9,288.3L431.2,288.4L431.5,288.4L432.1,288.6L432.3,288.6L432.9,288.8L433.2,288.8L433.8,289L434.1,289L434.7,289.2L434.9,289.3L435.5,289.5L435.8,289.5L437.9,290.2L438.1,290.3L438.4,290.5L439.6,290.9L439.9,291.1L440.8,291.4L441,291.6L441.3,291.7L441.6,291.9L441.9,292L442.2,292.2L442.5,292.3L442.8,292.5L443.1,292.6L443.7,293L444.8,293.7L445.1,293.8L446.6,294.8L446.8,295.1L447.7,295.7L448,296L448.3,296.2L448.9,296.8L449.2,297L449.5,297.3L449.7,297.6L450,297.9L450.3,298.3L450.6,298.6L451.2,299.4L452.1,300.9L452.3,301.6L452.6,302.2L452.9,303L453.5,304.8L453.8,305.9L454.1,307.1L454.4,308.4L455,311.2L455.2,312.7L455.5,314.1L455.8,315.4L456.1,316.6L456.4,317.7L456.7,318.7L457,319.6L457.3,320.4L457.6,321.1L458.1,322.1L458.4,322.5L459,323.1L459.3,323.3L459.6,323.4L459.9,323.6L460.2,323.7L460.5,323.7L460.8,323.8L461,323.8L461.3,323.9L462.2,323.9L462.5,324L508.9,324" fill="none" stroke="#d0bc34" stroke-width="1.25" stroke-linejoin="round"/>
<path d="M393.8,324L393.8,284.8L394.1,281.3L394.3,278L394.6,275.3L394.9,273.8L395.2,273.2L395.5,273.1L395.8,273.2L396.1,273.5L396.7,274.3L397,274.8L397.2,275.2L397.5,275.7L399,278.7L399.9,280.2L400.1,280.6L400.4,280.9L401,281.7L401.3,282L401.6,282.4L403,283.8L404.2,284.6L405.7,285.1L405.9,285.1L406.5,285.3L407.1,285.3L407.4,285.4L408.3,285.4L408.6,285.5L411.5,285.5L411.8,285.6L413.8,285.6L414.1,285.7L415.8,285.7L416.1,285.8L418.7,285.8L419,285.9L421.6,285.9L421.9,286L423.6,286L423.9,286.1L425.1,286.1L425.4,286.2L426.5,286.2L426.8,286.3L428,286.3L428.3,286.4L429.1,286.4L429.4,286.5L430.3,286.5L430.6,286.6L431.2,286.6L431.5,286.7L432.3,286.7L432.6,286.8L433.2,286.8L433.5,286.9L433.8,286.9L434.1,287L434.7,287L434.9,287.1L435.2,287.1L435.5,287.2L436.1,287.2L436.4,287.3L436.7,287.3L437,287.4L437.3,287.4L437.6,287.5L437.9,287.5L438.1,287.6L438.4,287.7L438.7,287.7L439,287.8L439.3,287.8L439.9,288L440.2,288L440.8,288.2L441,288.2L441.6,288.4L441.9,288.4L442.8,288.7L443.1,288.7L443.7,288.9L443.9,289L444.2,289L446.6,289.8L447.4,290.1L449.2,290.7L449.7,291L450.3,291.2L450.6,291.4L451.2,291.6L451.5,291.8L451.8,291.9L452.1,292.1L452.3,292.2L452.6,292.4L452.9,292.5L453.2,292.7L453.5,292.8L454.1,293.2L454.4,293.3L455,293.7L455.2,293.9L455.5,294L457,295L457.3,295.3L457.9,295.7L458.4,296.2L458.7,296.4L459,296.7L459.3,296.9L460.8,298.4L461,298.7L461.9,299.9L462.8,301.4L463.1,302L463.7,303.4L463.9,304.3L464.2,305.2L464.5,306.3L465.1,308.7L466,312.9L466.3,314.4L466.6,315.6L466.8,316.7L467.4,318.9L468,320.5L468.3,321.2L468.9,322.2L469.2,322.6L469.7,323.1L470,323.3L470.3,323.4L470.6,323.6L470.9,323.7L471.2,323.7L471.5,323.8L471.8,323.8L472.1,323.9L472.9,323.9L473.2,324L508.9,324" fill="none" stroke="#bcbe38" stroke-width="1.25" stroke-linejoin="round"/>
<path d="M393.8,324L393.8,284.3L394.1,280.7L394.3,277.4L394.6,274.8L394.9,273.2L395.2,272.7L395.5,272.6L395.8,272.7L396.1,273L396.7,273.8L397,274.3L397.2,274.7L397.5,275.2L399.3,278.8L399.6,279.2L399.9,279.7L400.1,280.1L400.4,280.5L400.7,280.8L401.3,281.6L401.9,282.2L402.2,282.6L402.5,282.8L403.3,283.6L403.6,283.8L403.9,283.9L404.2,284.1L404.5,284.2L404.8,284.4L405.1,284.5L405.4,284.5L406.2,284.8L406.8,284.8L407.1,284.9L407.7,284.9L408,285L410,285L410.3,285.1L413.2,285.1L413.5,285.2L415.8,285.2L416.1,285.3L420.2,285.3L420.4,285.4L423.9,285.4L424.2,285.5L426.2,285.5L426.5,285.6L428.6,285.6L428.9,285.7L430.6,285.7L430.9,285.8L432.3,285.8L432.6,285.9L433.8,285.9L434.1,286L434.9,286L435.2,286.1L436.1,286.1L436.4,286.2L437.3,286.2L437.6,286.3L438.1,286.3L438.4,286.4L439,286.4L439.3,286.5L439.9,286.5L440.2,286.6L440.5,286.6L440.8,286.7L441.3,286.7L441.6,286.8L441.9,286.8L442.2,286.9L442.8,286.9L443.1,287L443.4,287L443.7,287.1L443.9,287.1L444.2,287.2L444.5,287.2L444.8,287.3L445.4,287.3L445.7,287.4L446,287.4L446.3,287.5L446.6,287.5L446.8,287.6L447.1,287.7L447.4,287.7L447.7,287.8L448,287.8L448.3,287.9L448.6,287.9L448.9,288L449.2,288L449.7,288.2L450,288.2L450.6,288.4L450.9,288.4L451.5,288.6L451.8,288.6L452.1,288.7L452.3,288.8L452.6,288.9L452.9,288.9L453.8,289.2L454.1,289.2L455,289.5L455.2,289.6L457.9,290.5L458.1,290.6L459.6,291.1L459.9,291.3L460.8,291.6L461,291.8L461.6,292L461.9,292.2L462.5,292.4L462.8,292.6L463.1,292.7L463.4,292.9L463.7,293L463.9,293.2L464.2,293.3L464.8,293.7L465.1,293.8L466,294.4L466.3,294.5L466.6,294.7L466.8,294.9L468.6,296.1L468.9,296.4L469.5,296.8L469.7,297.1L470.3,297.5L471.2,298.4L471.5,298.6L471.8,298.9L472.1,299.3L472.4,299.6L472.9,300.3L473.2,300.7L474.1,302.2L474.7,303.4L475.3,305L475.5,305.9L476.1,308.1L476.4,309.3L476.7,310.6L477.3,313.4L477.6,314.7L477.9,315.9L478.2,317L478.4,318.1L478.7,319.1L479.3,320.7L479.6,321.3L480.2,322.3L480.8,322.9L481.1,323.1L481.3,323.3L481.6,323.5L482.2,323.7L482.5,323.7L482.8,323.8L483.1,323.8L483.4,323.9L484.2,323.9L484.5,324L508.9,324" fill="none" stroke="#92b03c" stroke-width="1.25" stroke-linejoin="round"/>
<path d="M393.8,324L393.8,283.7L394.1,280.2L394.3,276.9L394.6,274.3L394.9,272.7L395.2,272.2L395.5,272.1L395.8,272.2L396.1,272.5L396.7,273.3L397,273.8L397.5,274.8L397.8,275.3L398.1,276L398.7,277.2L399,277.7L399.3,278.3L399.6,278.8L399.9,279.2L400.1,279.6L401,280.8L401.3,281.1L401.6,281.5L403,282.9L404.2,283.7L405.7,284.2L405.9,284.3L406.2,284.3L406.5,284.4L406.8,284.4L407.1,284.5L407.7,284.5L408,284.6L410.3,284.6L410.6,284.7L413.2,284.7L413.5,284.8L416.1,284.8L416.4,284.9L421.9,284.9L422.2,285L425.7,285L426,285.1L428.6,285.1L428.9,285.2L431.5,285.2L431.8,285.3L433.8,285.3L434.1,285.4L435.5,285.4L435.8,285.5L437,285.5L437.3,285.6L438.1,285.6L438.4,285.7L439.6,285.7L439.9,285.8L440.5,285.8L440.8,285.9L441.6,285.9L441.9,286L442.8,286L443.1,286.1L443.7,286.1L443.9,286.2L444.5,286.2L444.8,286.3L445.7,286.3L446,286.4L446.6,286.4L446.8,286.5L447.4,286.5L447.7,286.6L448.3,286.6L448.6,286.7L448.9,286.7L449.2,286.8L449.7,286.8L450,286.9L450.3,286.9L450.6,287L451.2,287L451.5,287.1L451.8,287.1L452.1,287.2L452.6,287.2L452.9,287.3L453.2,287.3L453.5,287.4L453.8,287.4L454.1,287.5L454.4,287.5L454.7,287.6L455,287.6L455.2,287.7L455.5,287.7L455.8,287.8L456.1,287.8L456.4,287.9L456.7,287.9L457,288L457.3,288L457.6,288.1L457.9,288.1L458.4,288.3L458.7,288.3L459,288.4L459.3,288.4L459.9,288.6L460.2,288.6L460.8,288.8L461,288.8L461.6,289L461.9,289L462.8,289.3L463.1,289.3L463.7,289.5L463.9,289.6L464.2,289.6L465.4,290L465.7,290L466.6,290.3L467.4,290.6L469.5,291.3L470.3,291.6L471.5,292L471.8,292.2L472.4,292.4L472.9,292.6L473.2,292.8L473.8,293L474.1,293.2L474.7,293.4L475,293.6L475.3,293.7L475.5,293.9L475.8,294L476.1,294.2L476.4,294.3L477,294.7L477.3,294.8L477.9,295.2L478.2,295.3L478.4,295.5L481.1,297.3L481.3,297.5L481.6,297.7L481.9,298L482.5,298.4L482.8,298.7L483.1,298.9L484,299.8L484.2,300.1L485.1,301L486.3,302.6L486.6,303.1L486.9,303.7L487.1,304.3L487.4,304.9L487.7,305.6L488,306.4L488.3,307.3L488.6,308.3L488.9,309.4L489.5,311.8L489.8,313.1L490,314.4L490.3,315.7L490.6,316.8L491.2,318.8L491.8,320.4L492.1,321.1L492.4,321.7L492.7,322.1L492.9,322.5L493.5,323.1L493.8,323.3L494.1,323.4L494.4,323.6L494.7,323.7L495,323.7L495.3,323.8L495.6,323.8L495.8,323.9L496.7,323.9L497,324L508.9,324" fill="none" stroke="#3c8040" stroke-width="1.25" stroke-linejoin="round"/>
<path d="M393.8,324L393.8,283.5L394.1,280L394.3,276.6L394.6,274L394.9,272.5L395.2,271.9L395.5,271.8L396.1,272.2L396.4,272.6L396.7,273.1L397,273.5L397.2,274L397.5,274.5L399.3,278.1L399.6,278.5L399.9,279L400.1,279.4L400.7,280.2L401,280.5L401.6,281.3L403,282.7L404.2,283.5L405.7,284L405.9,284.1L406.2,284.1L406.5,284.2L406.8,284.2L407.1,284.3L408,284.3L408.3,284.4L410.3,284.4L410.6,284.5L413.2,284.5L413.5,284.6L416.1,284.6L416.4,284.7L422.2,284.7L422.5,284.8L426,284.8L426.2,284.9L429.7,284.9L430,285L432.6,285L432.9,285.1L434.9,285.1L435.2,285.2L436.7,285.2L437,285.3L438.1,285.3L438.4,285.4L439.6,285.4L439.9,285.5L441,285.5L441.3,285.6L442.2,285.6L442.5,285.7L443.4,285.7L443.7,285.8L444.5,285.8L444.8,285.9L445.7,285.9L446,286L446.8,286L447.1,286.1L448,286.1L448.3,286.2L448.9,286.2L449.2,286.3L449.7,286.3L450,286.4L450.9,286.4L451.2,286.5L451.8,286.5L452.1,286.6L452.6,286.6L452.9,286.7L453.5,286.7L453.8,286.8L454.4,286.8L454.7,286.9L455.2,286.9L455.5,287L455.8,287L456.1,287.1L456.7,287.1L457,287.2L457.6,287.2L457.9,287.3L458.1,287.3L458.4,287.4L458.7,287.4L459,287.5L459.6,287.5L459.9,287.6L460.2,287.6L460.5,287.7L460.8,287.7L461,287.8L461.3,287.8L461.6,287.9L461.9,287.9L462.2,288L462.5,288L462.8,288.1L463.1,288.1L463.4,288.2L463.7,288.2L463.9,288.3L464.2,288.3L464.5,288.4L464.8,288.4L465.1,288.5L465.4,288.5L465.7,288.6L466,288.6L466.3,288.7L466.6,288.7L466.8,288.8L467.1,288.8L467.7,289L468,289L468.3,289.1L468.6,289.1L468.9,289.2L469.2,289.2L469.7,289.4L470,289.4L470.6,289.6L470.9,289.6L471.5,289.8L471.8,289.8L472.1,289.9L472.4,289.9L472.9,290.1L473.2,290.2L473.5,290.2L474.4,290.5L474.7,290.5L475.3,290.7L475.5,290.8L475.8,290.8L477.3,291.3L477.6,291.3L478.2,291.5L478.4,291.6L481.1,292.5L481.3,292.6L482.2,292.9L482.5,293.1L483.7,293.5L484.2,293.8L484.5,293.9L484.8,294.1L485.1,294.2L485.4,294.4L485.7,294.5L486,294.7L486.3,294.8L486.9,295.2L487.1,295.4L489.2,296.8L489.5,297.1L489.8,297.3L490,297.6L490.3,297.9L490.6,298.1L491.5,299L491.8,299.2L492.7,300.1L492.9,300.5L493.5,301.1L494.1,301.9L494.4,302.2L495.6,303.8L495.8,304.2L496.1,304.5L497.3,306.1L497.6,306.4L498.5,307.6L498.7,308L499,308.4L499.3,308.9L499.6,309.3L500.5,310.8L501.4,312.6L501.6,313.3L501.9,314L502.8,316.4L503.1,317.3L503.4,318.1L503.7,319L504,319.7L504.3,320.3L504.5,320.9L504.8,321.5L505.7,322.7L506,322.9L506.3,323.2L506.6,323.3L506.9,323.5L507.4,323.7L507.7,323.7L508,323.8L508.3,323.8L508.6,323.9L508.9,323.9" fill="none" stroke="#255a48" stroke-width="1.25" stroke-linejoin="round"/>
</svg></body></html>
